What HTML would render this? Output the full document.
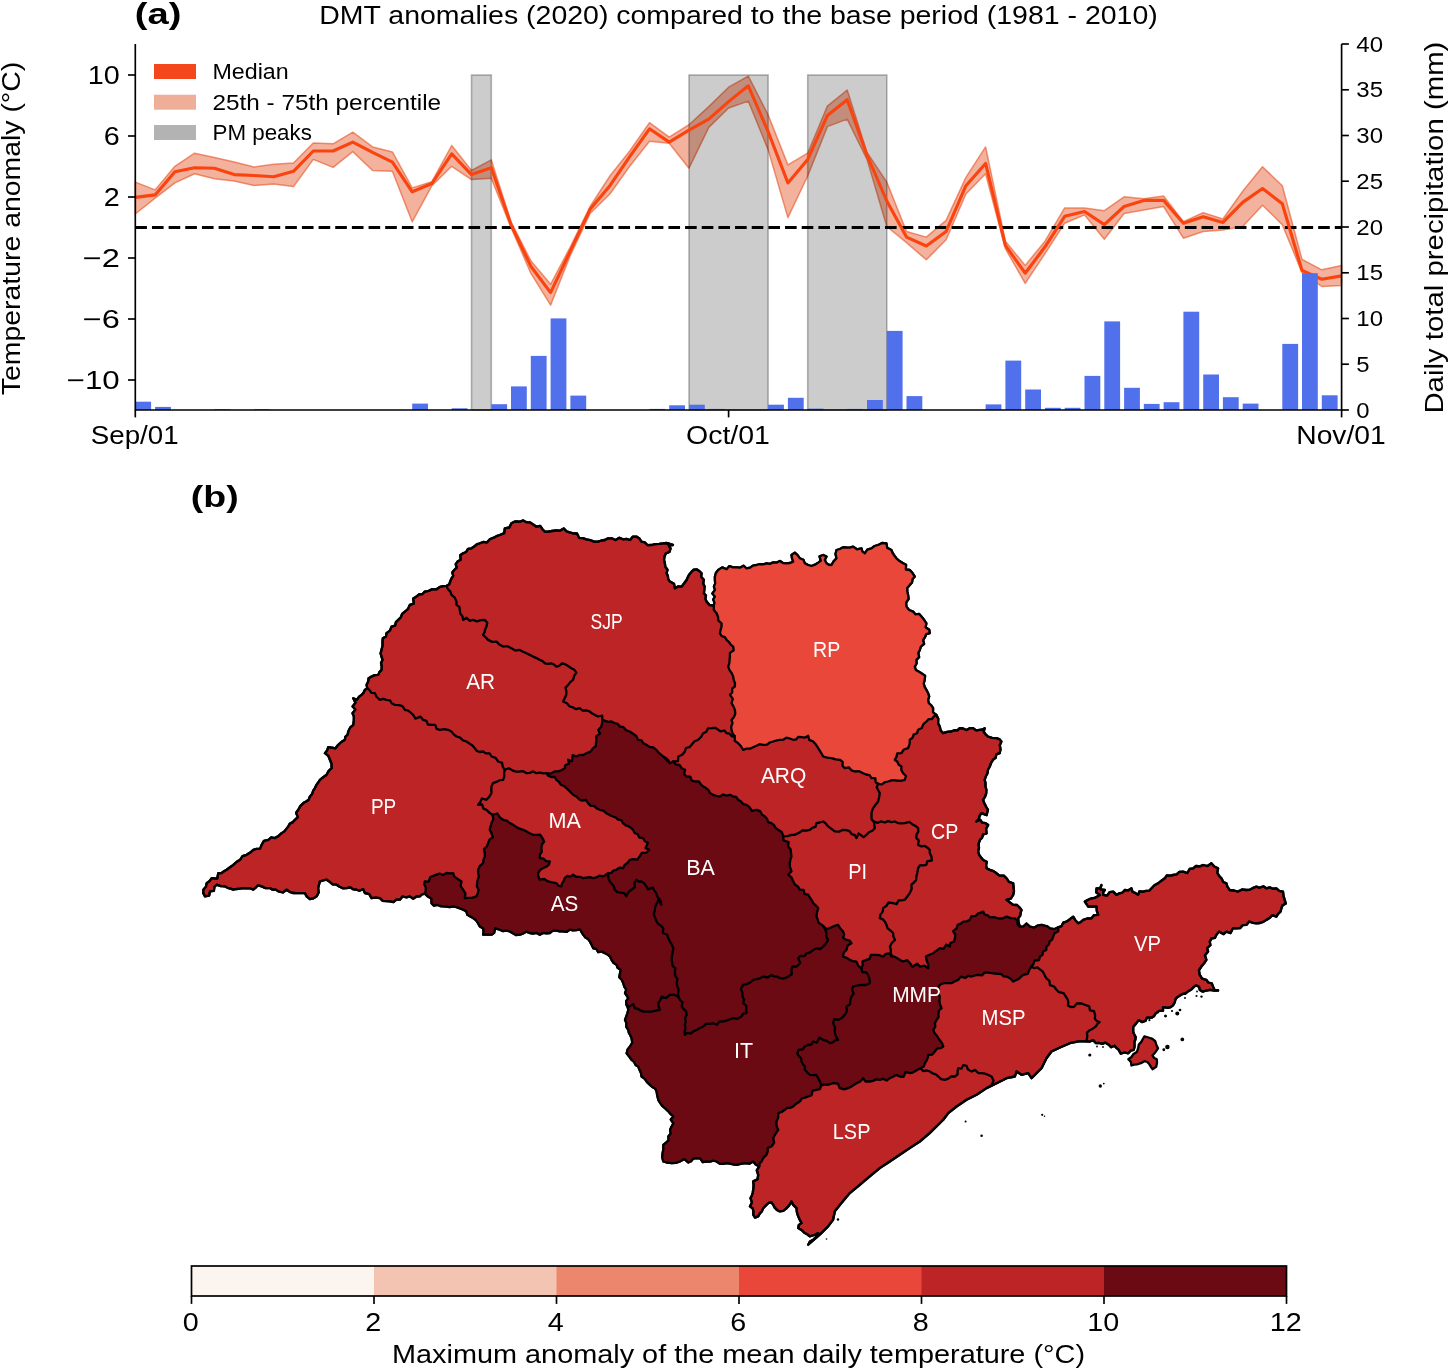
<!DOCTYPE html>
<html><head><meta charset="utf-8"><title>DMT anomalies</title>
<style>
html,body{margin:0;padding:0;background:#fff;}
body{width:1450px;height:1369px;overflow:hidden;}
svg{display:block;will-change:transform;}
text{font-family:"Liberation Sans",sans-serif;fill:#000;}
.b{font-weight:bold;}
.w{fill:#fff;}
</style></head><body>
<svg width="1450" height="1369" viewBox="0 0 1450 1369">
<rect width="1450" height="1369" fill="#fff"/>
<polygon points="135.3,182.1 155.1,189.9 174.9,166.3 194.6,153.2 214.4,157.4 234.2,162.1 254.0,167.1 273.7,164.3 293.5,163.0 313.3,143.0 333.1,143.8 352.8,132.2 372.6,146.9 392.4,151.9 412.2,187.9 431.9,181.6 451.7,145.5 471.5,170.5 491.3,159.9 511.0,221.8 530.8,260.7 550.6,284.3 570.4,246.8 590.1,206.5 609.9,176.0 629.7,151.0 649.5,122.7 669.2,137.1 689.0,124.7 708.8,106.6 728.6,87.2 748.3,76.1 768.1,114.9 787.9,164.9 807.7,153.2 827.4,106.1 847.2,90.0 867.0,152.4 886.8,182.1 906.5,231.5 926.3,237.1 946.1,220.4 965.9,177.4 985.6,146.9 1005.4,241.2 1025.2,265.4 1045.0,241.2 1064.7,207.9 1084.5,207.9 1104.3,210.7 1124.1,196.8 1143.8,198.8 1163.6,196.0 1183.4,221.8 1203.2,212.6 1222.9,219.0 1242.7,191.3 1262.5,166.8 1282.3,185.7 1302.0,259.3 1321.8,269.8 1341.6,265.4 1341.6,285.6 1321.8,286.5 1302.0,272.6 1282.3,224.6 1262.5,205.2 1242.7,226.5 1222.9,230.1 1203.2,231.5 1183.4,238.2 1163.6,206.5 1143.8,210.1 1124.1,213.5 1104.3,239.3 1084.5,214.9 1064.7,223.2 1045.0,253.7 1025.2,283.4 1005.4,248.7 985.6,173.8 965.9,194.0 946.1,239.8 926.3,259.8 906.5,242.6 886.8,226.5 867.0,159.4 847.2,119.1 827.4,126.6 807.7,176.0 787.9,217.6 768.1,149.6 748.3,101.1 728.6,108.0 708.8,127.4 689.0,168.2 669.2,143.3 649.5,141.3 629.7,166.3 609.9,194.0 590.1,213.5 570.4,255.1 550.6,305.1 530.8,273.2 511.0,227.4 491.3,178.2 471.5,179.6 451.7,166.3 431.9,185.7 412.2,221.8 392.4,171.3 372.6,170.5 352.8,151.6 333.1,167.4 313.3,159.4 293.5,186.6 273.7,184.1 254.0,185.4 234.2,181.0 214.4,178.8 194.6,173.8 174.9,182.9 155.1,198.2 135.3,214.0" fill="#E2572A" fill-opacity="0.46" stroke="#E8501F" stroke-opacity="0.6" stroke-width="1.5" stroke-linejoin="round"/>
<rect x="471.5" y="75" width="19.8" height="335" fill="#000" fill-opacity="0.2" stroke="#000" stroke-opacity="0.28" stroke-width="1.6"/>
<rect x="689.0" y="75" width="79.1" height="335" fill="#000" fill-opacity="0.2" stroke="#000" stroke-opacity="0.28" stroke-width="1.6"/>
<rect x="807.7" y="75" width="79.1" height="335" fill="#000" fill-opacity="0.2" stroke="#000" stroke-opacity="0.28" stroke-width="1.6"/>
<line x1="135.3" x2="1341.6" y1="227.5" y2="227.5" stroke="#000" stroke-width="3.14" stroke-dasharray="11.63 5.03"/>
<polyline points="135.3,197.4 155.1,194.9 174.9,171.8 194.6,167.7 214.4,168.2 234.2,174.6 254.0,175.5 273.7,176.8 293.5,171.3 313.3,151.0 333.1,151.0 352.8,142.1 372.6,152.4 392.4,162.1 412.2,191.8 431.9,183.5 451.7,153.8 471.5,174.6 491.3,167.7 511.0,224.6 530.8,266.2 550.6,292.6 570.4,250.9 590.1,209.3 609.9,185.7 629.7,156.6 649.5,128.8 669.2,142.1 689.0,130.2 708.8,119.1 728.6,101.6 748.3,85.8 768.1,131.6 787.9,182.9 807.7,159.4 827.4,115.5 847.2,99.7 867.0,155.2 886.8,201.0 906.5,237.1 926.3,246.0 946.1,231.5 965.9,185.7 985.6,163.5 1005.4,245.4 1025.2,273.2 1045.0,246.8 1064.7,216.3 1084.5,211.5 1104.3,224.6 1124.1,206.5 1143.8,200.4 1163.6,200.4 1183.4,223.2 1203.2,216.8 1222.9,222.4 1242.7,202.4 1262.5,188.5 1282.3,203.8 1302.0,270.4 1321.8,279.3 1341.6,275.9" fill="none" stroke="#FA430F" stroke-width="3.14" stroke-linejoin="round"/>
<rect x="135.3" y="401.7" width="15.8" height="8.3" fill="#5170EC"/>
<rect x="155.1" y="406.9" width="15.8" height="3.1" fill="#5170EC"/>
<rect x="214.4" y="409.2" width="15.8" height="0.8" fill="#5170EC"/>
<rect x="254.0" y="409.2" width="15.8" height="0.8" fill="#5170EC"/>
<rect x="412.2" y="403.6" width="15.8" height="6.4" fill="#5170EC"/>
<rect x="451.7" y="408.3" width="15.8" height="1.7" fill="#5170EC"/>
<rect x="491.3" y="404.2" width="15.8" height="5.8" fill="#5170EC"/>
<rect x="511.0" y="386.4" width="15.8" height="23.6" fill="#5170EC"/>
<rect x="530.8" y="355.9" width="15.8" height="54.1" fill="#5170EC"/>
<rect x="550.6" y="318.4" width="15.8" height="91.6" fill="#5170EC"/>
<rect x="570.4" y="395.6" width="15.8" height="14.4" fill="#5170EC"/>
<rect x="649.5" y="408.9" width="15.8" height="1.1" fill="#5170EC"/>
<rect x="669.2" y="405.3" width="15.8" height="4.7" fill="#5170EC"/>
<rect x="689.0" y="404.7" width="15.8" height="5.3" fill="#5170EC"/>
<rect x="708.8" y="408.9" width="15.8" height="1.1" fill="#5170EC"/>
<rect x="768.1" y="404.7" width="15.8" height="5.3" fill="#5170EC"/>
<rect x="787.9" y="397.8" width="15.8" height="12.2" fill="#5170EC"/>
<rect x="807.7" y="408.6" width="15.8" height="1.4" fill="#5170EC"/>
<rect x="847.2" y="408.9" width="15.8" height="1.1" fill="#5170EC"/>
<rect x="867.0" y="400.0" width="15.8" height="10.0" fill="#5170EC"/>
<rect x="886.8" y="330.9" width="15.8" height="79.1" fill="#5170EC"/>
<rect x="906.5" y="396.1" width="15.8" height="13.9" fill="#5170EC"/>
<rect x="985.6" y="404.4" width="15.8" height="5.6" fill="#5170EC"/>
<rect x="1005.4" y="360.6" width="15.8" height="49.4" fill="#5170EC"/>
<rect x="1025.2" y="389.5" width="15.8" height="20.5" fill="#5170EC"/>
<rect x="1045.0" y="407.8" width="15.8" height="2.2" fill="#5170EC"/>
<rect x="1064.7" y="407.8" width="15.8" height="2.2" fill="#5170EC"/>
<rect x="1084.5" y="375.9" width="15.8" height="34.1" fill="#5170EC"/>
<rect x="1104.3" y="321.4" width="15.8" height="88.6" fill="#5170EC"/>
<rect x="1124.1" y="387.8" width="15.8" height="22.2" fill="#5170EC"/>
<rect x="1143.8" y="403.9" width="15.8" height="6.1" fill="#5170EC"/>
<rect x="1163.6" y="402.2" width="15.8" height="7.8" fill="#5170EC"/>
<rect x="1183.4" y="311.7" width="15.8" height="98.3" fill="#5170EC"/>
<rect x="1203.2" y="374.5" width="15.8" height="35.5" fill="#5170EC"/>
<rect x="1222.9" y="397.2" width="15.8" height="12.8" fill="#5170EC"/>
<rect x="1242.7" y="403.6" width="15.8" height="6.4" fill="#5170EC"/>
<rect x="1282.3" y="343.9" width="15.8" height="66.1" fill="#5170EC"/>
<rect x="1302.0" y="273.2" width="15.8" height="136.8" fill="#5170EC"/>
<rect x="1321.8" y="395.3" width="15.8" height="14.7" fill="#5170EC"/>
<path d="M135.3,44 V410 H1341.6 V44" fill="none" stroke="#000" stroke-width="1.67"/>
<line x1="128" x2="135.3" y1="75" y2="75" stroke="#000" stroke-width="1.67"/>
<text x="119.8" y="84.1" font-size="25.64" text-anchor="end" textLength="32.0" lengthAdjust="spacingAndGlyphs">10</text>
<line x1="128" x2="135.3" y1="136" y2="136" stroke="#000" stroke-width="1.67"/>
<text x="119.8" y="145.1" font-size="25.64" text-anchor="end" textLength="16.0" lengthAdjust="spacingAndGlyphs">6</text>
<line x1="128" x2="135.3" y1="197" y2="197" stroke="#000" stroke-width="1.67"/>
<text x="119.8" y="206.1" font-size="25.64" text-anchor="end" textLength="16.0" lengthAdjust="spacingAndGlyphs">2</text>
<line x1="128" x2="135.3" y1="258" y2="258" stroke="#000" stroke-width="1.67"/>
<text x="119.8" y="267.1" font-size="25.64" text-anchor="end" textLength="37.1" lengthAdjust="spacingAndGlyphs">−2</text>
<line x1="128" x2="135.3" y1="319" y2="319" stroke="#000" stroke-width="1.67"/>
<text x="119.8" y="328.1" font-size="25.64" text-anchor="end" textLength="37.1" lengthAdjust="spacingAndGlyphs">−6</text>
<line x1="128" x2="135.3" y1="380" y2="380" stroke="#000" stroke-width="1.67"/>
<text x="119.8" y="389.1" font-size="25.64" text-anchor="end" textLength="53.1" lengthAdjust="spacingAndGlyphs">−10</text>
<line x1="1341.6" x2="1348.9" y1="410.0" y2="410.0" stroke="#000" stroke-width="1.67"/>
<text x="1356.3" y="417.6" font-size="21.37" textLength="13.3" lengthAdjust="spacingAndGlyphs">0</text>
<line x1="1341.6" x2="1348.9" y1="364.2" y2="364.2" stroke="#000" stroke-width="1.67"/>
<text x="1356.3" y="371.9" font-size="21.37" textLength="13.3" lengthAdjust="spacingAndGlyphs">5</text>
<line x1="1341.6" x2="1348.9" y1="318.5" y2="318.5" stroke="#000" stroke-width="1.67"/>
<text x="1356.3" y="326.1" font-size="21.37" textLength="26.7" lengthAdjust="spacingAndGlyphs">10</text>
<line x1="1341.6" x2="1348.9" y1="272.8" y2="272.8" stroke="#000" stroke-width="1.67"/>
<text x="1356.3" y="280.4" font-size="21.37" textLength="26.7" lengthAdjust="spacingAndGlyphs">15</text>
<line x1="1341.6" x2="1348.9" y1="227.0" y2="227.0" stroke="#000" stroke-width="1.67"/>
<text x="1356.3" y="234.6" font-size="21.37" textLength="26.7" lengthAdjust="spacingAndGlyphs">20</text>
<line x1="1341.6" x2="1348.9" y1="181.2" y2="181.2" stroke="#000" stroke-width="1.67"/>
<text x="1356.3" y="188.8" font-size="21.37" textLength="26.7" lengthAdjust="spacingAndGlyphs">25</text>
<line x1="1341.6" x2="1348.9" y1="135.5" y2="135.5" stroke="#000" stroke-width="1.67"/>
<text x="1356.3" y="143.1" font-size="21.37" textLength="26.7" lengthAdjust="spacingAndGlyphs">30</text>
<line x1="1341.6" x2="1348.9" y1="89.8" y2="89.8" stroke="#000" stroke-width="1.67"/>
<text x="1356.3" y="97.3" font-size="21.37" textLength="26.7" lengthAdjust="spacingAndGlyphs">35</text>
<line x1="1341.6" x2="1348.9" y1="44.0" y2="44.0" stroke="#000" stroke-width="1.67"/>
<text x="1356.3" y="51.6" font-size="21.37" textLength="26.7" lengthAdjust="spacingAndGlyphs">40</text>
<line x1="135.3" x2="135.3" y1="410" y2="417.4" stroke="#000" stroke-width="1.67"/>
<text x="134.7" y="443.6" font-size="25.64" text-anchor="middle" textLength="87.8" lengthAdjust="spacingAndGlyphs">Sep/01</text>
<line x1="728.6" x2="728.6" y1="410" y2="417.4" stroke="#000" stroke-width="1.67"/>
<text x="728.0" y="443.6" font-size="25.64" text-anchor="middle" textLength="83.9" lengthAdjust="spacingAndGlyphs">Oct/01</text>
<line x1="1341.6" x2="1341.6" y1="410" y2="417.4" stroke="#000" stroke-width="1.67"/>
<text x="1341.0" y="443.6" font-size="25.64" text-anchor="middle" textLength="89.5" lengthAdjust="spacingAndGlyphs">Nov/01</text>
<text x="134.8" y="23.7" font-size="29.92" textLength="46.6" lengthAdjust="spacingAndGlyphs" class="b">(a)</text>
<text x="738.5" y="23.5" font-size="25.64" text-anchor="middle" textLength="838.5" lengthAdjust="spacingAndGlyphs">DMT anomalies (2020) compared to the base period (1981 - 2010)</text>
<text x="20.3" y="228.5" font-size="25.64" text-anchor="middle" textLength="333.4" lengthAdjust="spacingAndGlyphs" transform="rotate(-90 20.3 228.5)">Temperature anomaly (°C)</text>
<text x="1443.3" y="227.6" font-size="25.64" text-anchor="middle" textLength="372.0" lengthAdjust="spacingAndGlyphs" transform="rotate(-90 1443.3 227.6)">Daily total precipitation (mm)</text>
<rect x="154" y="64" width="42" height="15" fill="#F4471C"/>
<rect x="154" y="94.7" width="42" height="15" fill="#EFAE98"/>
<rect x="154" y="125" width="42" height="15" fill="#B3B3B3"/>
<text x="212.5" y="79.4" font-size="21.37" textLength="76.2" lengthAdjust="spacingAndGlyphs">Median</text>
<text x="212.5" y="109.8" font-size="21.37" textLength="228.6" lengthAdjust="spacingAndGlyphs">25th - 75th percentile</text>
<text x="212.5" y="140.2" font-size="21.37" textLength="99.4" lengthAdjust="spacingAndGlyphs">PM peaks</text>
<text x="190.8" y="507.1" font-size="29.92" textLength="47.8" lengthAdjust="spacingAndGlyphs" class="b">(b)</text>
<polygon points="446.5,585.9 449.3,584.2 450.3,581.2 451.5,578.3 453.2,575.8 452.3,572.4 454.2,570.0 456.7,567.7 455.7,564.1 457.5,561.6 460.7,559.7 460.2,555.3 463.1,553.3 466.1,552.0 468.0,548.9 471.5,548.3 474.2,546.5 476.7,544.4 479.8,543.3 483.1,542.0 487.1,542.3 489.8,539.3 493.1,537.9 496.4,536.2 499.8,535.0 504.2,533.1 504.8,528.3 509.3,527.5 511.4,523.3 515.4,521.3 519.8,521.7 523.2,520.4 526.4,522.2 529.8,522.3 533.2,524.4 536.4,526.7 540.2,525.9 542.3,529.0 544.7,531.5 548.1,531.7 551.9,531.0 555.8,530.5 559.7,530.7 563.7,528.4 566.5,531.3 569.8,532.4 573.1,533.3 577.0,533.5 579.1,537.8 582.9,538.2 586.4,539.3 590.3,540.1 594.0,541.6 598.1,541.6 601.4,540.5 604.9,540.0 608.0,538.3 611.8,538.4 615.5,540.0 619.4,537.7 623.0,539.3 626.4,538.8 630.1,540.0 632.9,536.6 636.4,536.6 639.5,538.5 641.4,541.6 644.8,542.4 647.6,545.2 651.3,545.0 655.2,544.1 659.1,543.8 663.0,543.3 666.5,543.0 669.5,545.4 673.0,545.0 672.9,545.0 668.3,543.3 669.0,546.0 670.6,548.3 669.5,552.0 665.9,553.3 664.5,556.5 664.0,559.8 664.9,563.3 665.3,566.7 667.5,569.7 666.6,573.3 667.9,576.0 668.2,579.1 669.9,581.6 674.0,583.8 674.9,588.3 678.0,586.4 681.6,586.6 684.1,583.3 686.6,580.0 687.9,576.9 689.5,574.2 691.6,571.6 693.7,569.7 696.6,569.3 699.3,571.0 701.6,573.3 701.1,576.8 703.9,579.8 703.2,583.3 704.6,586.5 704.3,589.9 703.9,593.3 706.0,595.6 705.4,598.9 706.6,601.6 709.5,605.0 713.9,605.6 714.5,602.6 713.2,599.5 714.9,596.6 712.4,593.5 715.0,589.9 713.9,586.6 715.2,583.4 714.9,580.0 714.9,576.6 715.9,573.0 718.2,570.0 722.2,567.4 726.6,569.3 729.4,566.1 733.1,567.3 736.5,567.3 739.9,567.7 743.4,565.7 746.5,568.3 750.0,567.7 753.0,565.6 756.5,565.0 759.8,564.2 763.3,564.3 766.5,563.3 769.9,563.9 773.2,562.4 776.5,562.6 780.0,561.0 783.2,563.2 786.5,563.3 790.0,563.0 793.2,561.6 792.0,558.4 791.5,555.0 794.8,552.6 797.6,555.2 799.8,558.3 803.4,559.7 804.8,563.3 808.0,565.0 811.5,566.0 815.0,564.7 818.2,562.6 820.8,560.7 819.5,556.3 823.2,555.0 826.5,556.6 824.8,560.0 826.5,563.3 828.8,564.8 831.5,565.0 833.6,561.4 836.5,558.3 835.5,554.1 836.5,550.0 840.0,549.0 843.1,547.3 846.5,547.5 849.8,547.6 853.1,546.6 856.9,549.3 861.5,548.3 862.3,551.4 864.8,553.3 867.3,549.7 871.5,548.3 874.5,546.0 878.1,545.0 882.1,543.0 886.4,543.3 887.2,547.9 891.4,550.0 892.6,553.0 894.4,555.7 896.4,558.3 899.5,561.1 903.1,563.3 906.1,564.7 905.8,569.5 909.8,570.0 912.5,573.1 914.8,576.6 912.6,579.1 912.0,582.5 909.8,584.9 907.2,588.0 907.3,591.4 908.1,594.9 908.6,599.0 906.1,602.6 906.4,606.6 909.1,610.0 913.1,611.6 915.3,614.3 919.2,613.9 921.4,616.6 924.1,619.8 926.4,623.3 925.6,627.2 929.2,629.7 929.7,633.2 926.3,634.2 924.9,637.3 923.1,639.9 924.1,643.9 920.9,646.6 919.8,649.9 918.3,653.1 919.1,657.1 916.4,659.9 916.6,663.5 914.8,666.6 915.8,670.0 918.6,671.6 921.4,673.2 925.1,675.6 924.7,679.9 923.7,683.5 924.6,686.8 926.4,689.9 928.0,693.0 929.2,696.3 928.1,699.9 928.8,703.2 931.3,705.5 933.1,708.2 933.0,712.4 936.4,714.9 938.3,718.8 938.1,723.2 939.8,726.5 940.6,730.3 943.1,733.2 947.1,731.9 951.4,731.5 954.1,730.2 957.4,730.3 959.7,728.2 963.1,728.5 966.4,730.0 969.7,728.2 973.1,728.2 976.2,730.4 979.7,729.8 982.4,729.5 984.7,728.2 983.7,731.8 985.6,734.3 988.0,736.5 992.1,737.8 996.4,738.2 999.3,739.1 1001.4,741.5 999.8,745.3 1000.5,749.3 999.7,753.2 996.4,754.3 995.6,757.9 993.0,759.8 991.1,763.0 989.8,766.5 988.0,769.8 987.5,773.3 985.8,776.5 984.7,779.8 985.5,783.1 985.5,786.5 986.4,789.8 986.2,793.5 985.0,796.8 983.0,799.8 984.4,803.3 986.0,806.6 988.0,809.8 986.6,815.1 981.4,813.1 979.6,815.9 978.8,819.1 976.4,821.5 980.1,819.7 982.3,822.7 985.6,823.2 988.2,825.0 986.1,828.9 986.6,833.3 983.2,834.4 982.1,837.7 979.9,840.0 978.6,843.8 979.0,847.8 978.2,851.6 979.2,854.9 981.1,857.5 983.2,860.0 986.8,861.8 986.1,865.3 986.6,868.3 989.9,869.9 993.5,871.1 996.6,873.3 999.5,875.7 1003.8,875.6 1006.6,878.3 1009.0,881.9 1013.2,883.3 1013.6,887.2 1014.0,891.1 1013.2,894.9 1010.8,898.6 1006.6,899.9 1009.9,902.4 1013.2,904.9 1017.0,905.0 1019.4,907.3 1021.5,909.9 1020.7,912.8 1020.2,915.8 1018.2,918.3 1018.6,922.5 1019.9,926.6 1023.2,926.7 1026.5,923.5 1029.9,926.6 1034.0,927.7 1037.7,925.6 1041.5,924.9 1044.4,925.7 1047.4,926.4 1049.9,928.3 1054.2,929.2 1058.2,927.3 1061.5,926.2 1063.2,922.7 1066.5,921.6 1069.9,919.2 1073.2,916.6 1075.3,920.2 1078.2,923.3 1080.9,921.9 1083.2,919.9 1087.2,918.5 1091.5,918.3 1094.1,915.1 1098.2,914.9 1096.8,910.9 1096.5,906.6 1092.3,906.3 1088.2,906.6 1086.5,904.1 1084.8,901.6 1088.1,899.8 1091.5,898.3 1094.6,897.9 1097.2,896.5 1099.8,894.9 1096.3,892.5 1096.5,888.3 1100.0,888.2 1101.5,885.0 1100.3,889.3 1104.8,890.0 1103.2,892.2 1103.2,894.9 1107.1,895.7 1109.6,892.2 1113.2,891.6 1116.5,894.9 1119.3,893.3 1122.6,892.6 1124.8,890.0 1128.4,890.3 1131.5,888.3 1132.5,891.7 1135.5,893.1 1138.1,894.9 1139.3,891.4 1143.1,891.6 1146.0,890.8 1149.2,890.7 1151.5,888.3 1154.4,885.3 1158.1,883.3 1161.4,880.7 1164.8,878.3 1166.8,875.4 1170.1,875.6 1173.1,875.0 1176.6,874.4 1179.4,871.8 1183.1,871.6 1187.3,873.0 1189.6,869.0 1193.1,868.3 1196.0,866.0 1199.9,866.4 1203.1,865.0 1207.6,866.0 1211.4,863.3 1214.3,866.5 1218.1,868.3 1217.3,872.8 1219.7,876.6 1221.9,878.9 1223.2,882.0 1226.4,883.3 1227.5,886.9 1229.7,890.0 1234.0,890.5 1238.1,891.6 1242.0,889.5 1246.4,890.0 1250.0,889.6 1253.1,887.9 1256.4,886.6 1259.6,887.8 1263.3,886.3 1266.4,888.3 1269.7,887.4 1273.0,888.7 1276.4,888.3 1279.2,890.9 1283.0,891.6 1283.5,895.9 1284.7,899.9 1285.8,903.6 1282.4,905.5 1281.4,908.3 1280.6,911.6 1278.1,913.8 1276.4,916.6 1272.2,915.2 1269.5,918.1 1266.4,919.9 1263.3,921.9 1260.0,923.0 1256.4,923.3 1252.9,922.9 1249.2,921.5 1246.4,924.9 1242.8,925.1 1240.1,928.2 1236.4,928.3 1232.8,928.4 1230.6,933.1 1226.4,931.6 1223.6,934.2 1219.0,931.6 1216.4,934.9 1214.9,937.9 1211.3,938.7 1209.8,941.6 1210.4,945.1 1207.3,948.0 1208.1,951.6 1205.0,955.3 1206.4,959.9 1204.1,963.3 1201.4,966.6 1198.9,970.4 1199.8,974.9 1202.1,978.7 1206.4,979.9 1208.3,982.5 1211.8,983.4 1213.1,986.6 1214.5,989.8 1218.1,990.5 1214.2,990.7 1210.2,989.8 1206.4,990.5 1202.8,991.7 1199.8,990.0 1199.0,986.7 1195.9,985.4 1193.6,987.1 1191.6,989.2 1188.4,991.2 1185.4,993.5 1182.0,994.2 1179.2,996.0 1176.9,997.4 1175.4,999.7 1174.6,1002.7 1173.0,1005.3 1170.7,1007.1 1168.0,1007.8 1163.0,1007.2 1163.0,1010.9 1159.3,1010.9 1155.6,1013.4 1154.2,1016.0 1151.9,1017.7 1146.9,1017.7 1145.4,1021.0 1141.9,1022.1 1138.6,1020.1 1136.3,1023.3 1133.2,1027.0 1133.2,1032.0 1134.3,1034.6 1135.7,1037.0 1135.4,1039.5 1134.5,1041.9 1134.5,1046.9 1133.7,1049.9 1130.8,1050.6 1128.2,1053.3 1124.6,1052.5 1120.8,1053.7 1118.3,1049.4 1116.2,1047.8 1114.6,1045.7 1111.1,1047.3 1108.4,1044.4 1105.4,1042.7 1102.2,1043.8 1099.2,1043.0 1096.0,1043.2 1093.1,1040.1 1089.4,1041.7 1086.1,1041.3 1078.6,1041.3 1069.9,1043.2 1060.0,1047.5 1051.5,1051.5 1046.5,1058.2 1041.5,1068.2 1031.5,1078.2 1028.2,1073.2 1021.5,1074.8 1016.6,1071.5 1014.9,1076.5 1006.6,1078.2 996.6,1083.2 986.6,1088.1 976.6,1094.8 966.6,1099.8 956.6,1106.5 948.3,1113.1 943.3,1119.8 929.7,1133.1 919.8,1141.5 909.8,1148.1 899.8,1154.8 889.8,1161.5 879.8,1168.1 869.8,1176.4 859.8,1184.8 849.8,1193.1 841.5,1203.1 834.8,1211.4 833.1,1219.7 828.1,1226.4 819.8,1234.7 808.2,1244.7 809.9,1241.5 813.2,1239.7 816.1,1236.7 818.2,1233.1 815.5,1234.5 812.7,1235.5 809.8,1236.4 807.5,1234.5 804.8,1233.1 801.8,1230.2 798.2,1228.1 798.8,1224.9 801.5,1223.1 799.7,1219.8 798.2,1216.4 796.9,1212.3 796.5,1208.1 793.4,1205.2 791.5,1201.4 790.1,1204.1 788.2,1206.4 785.9,1208.9 783.3,1210.9 779.8,1211.4 776.9,1209.9 774.7,1207.6 773.2,1204.8 771.3,1202.1 768.2,1203.1 765.7,1205.6 763.2,1208.1 762.0,1211.1 759.7,1213.6 758.2,1216.4 755.0,1217.6 753.2,1214.7 753.4,1211.4 752.7,1208.5 749.9,1206.4 751.9,1202.4 750.5,1198.1 751.9,1195.5 752.7,1192.7 753.2,1189.8 753.6,1185.6 753.2,1181.4 757.5,1179.4 758.2,1174.8 756.8,1170.4 759.2,1166.4 755.7,1164.6 753.2,1161.5 749.3,1163.7 744.9,1163.1 740.7,1163.9 736.5,1164.8 733.2,1164.4 729.9,1163.6 726.6,1163.1 723.0,1163.8 719.6,1163.6 716.6,1161.5 713.2,1160.7 709.9,1161.7 706.6,1161.5 702.7,1162.0 700.2,1158.4 696.6,1158.1 693.3,1158.6 691.1,1161.2 688.2,1162.5 684.4,1159.1 679.9,1161.5 675.8,1162.8 671.6,1163.1 667.4,1162.6 663.3,1161.5 662.2,1157.3 662.6,1153.1 663.4,1149.0 663.3,1144.8 666.0,1142.7 668.6,1140.5 668.3,1136.5 670.7,1133.6 670.1,1129.7 671.6,1126.5 673.4,1123.4 670.8,1119.5 673.3,1116.5 670.4,1113.8 667.8,1110.8 664.9,1108.2 662.2,1105.8 660.1,1102.9 658.3,1099.8 657.3,1095.7 656.6,1091.5 655.1,1088.5 652.3,1087.0 649.9,1084.8 647.0,1082.2 644.8,1078.9 641.6,1076.5 641.0,1073.0 639.5,1069.8 638.3,1066.5 635.5,1064.9 634.1,1061.8 631.6,1059.9 629.2,1056.5 626.6,1053.2 627.6,1049.5 630.0,1046.5 632.3,1042.7 631.6,1038.2 630.4,1035.5 628.9,1032.9 628.3,1029.9 626.3,1026.8 626.4,1023.1 625.0,1019.9 626.2,1016.6 627.4,1013.3 628.3,1009.9 627.7,1007.3 626.6,1004.9 626.1,1001.2 628.3,998.2 626.7,995.7 625.0,993.2 626.3,989.6 624.2,986.5 623.3,983.2 621.9,980.0 619.3,977.2 620.0,973.2 620.6,969.8 617.6,967.8 616.6,964.9 613.5,962.8 611.6,959.9 610.0,956.6 607.5,954.4 604.6,952.9 601.6,951.6 598.2,952.1 596.3,948.8 593.3,948.3 591.7,944.9 590.0,941.6 588.1,939.0 585.3,937.4 583.3,934.9 581.6,932.2 580.0,929.3 576.4,930.1 573.0,930.4 569.7,929.7 566.7,931.9 563.1,931.3 559.7,931.4 556.2,930.6 552.8,930.7 549.8,933.0 546.4,933.4 542.9,932.9 539.8,934.7 536.6,932.9 533.1,933.5 529.8,933.0 526.1,931.7 523.0,933.6 519.8,934.7 515.9,935.1 512.9,933.3 509.8,931.4 506.5,930.6 503.0,931.1 499.8,929.7 495.1,928.3 494.2,932.9 491.5,934.7 487.3,934.3 483.1,934.7 483.6,931.3 483.0,928.3 479.8,926.4 478.0,923.2 476.1,920.3 473.1,918.1 470.3,916.4 467.4,914.8 466.2,911.1 463.1,909.7 459.9,908.3 456.6,907.1 453.2,906.4 449.8,907.1 446.5,906.6 443.2,906.4 440.1,906.0 437.3,904.8 433.9,905.6 431.5,903.1 431.4,898.4 427.7,896.4 424.8,893.7 422.0,894.5 419.8,896.4 416.5,896.5 413.2,898.7 409.8,896.4 406.5,897.4 402.5,896.5 399.9,899.7 396.4,899.6 393.4,902.1 389.9,901.4 386.2,901.2 382.7,900.8 379.9,898.1 375.7,897.7 371.5,898.1 369.3,894.1 364.9,893.1 363.2,889.1 359.3,890.8 356.6,889.7 353.2,889.4 350.1,887.3 346.6,888.1 342.8,888.3 339.6,886.8 336.6,884.7 332.6,884.4 329.7,881.9 326.6,879.7 323.2,880.5 319.9,881.4 319.0,884.7 318.2,888.1 318.7,892.5 316.6,896.4 313.5,898.4 309.9,899.1 306.8,896.6 304.9,893.1 300.8,893.1 296.6,893.1 292.9,893.0 289.6,891.8 286.6,889.7 282.8,892.5 278.3,891.4 275.8,889.6 272.5,889.7 269.9,888.1 265.6,888.2 261.6,886.4 258.0,885.3 255.7,887.7 253.3,889.7 250.1,888.3 246.7,888.3 243.3,888.1 240.0,888.6 236.6,889.0 233.3,889.7 230.5,888.7 227.6,887.8 225.0,886.4 220.7,886.1 216.6,884.7 214.4,886.9 213.9,890.8 210.0,891.4 209.2,895.6 205.0,896.4 203.3,893.3 203.3,889.7 205.9,886.8 206.7,883.1 209.6,881.0 211.7,878.1 217.2,878.6 218.3,873.1 221.5,873.0 224.0,871.3 226.6,869.8 230.0,867.3 233.3,864.8 236.4,862.0 240.0,859.8 242.5,856.2 246.6,854.8 250.2,852.6 253.3,849.8 256.5,848.8 260.1,848.6 261.6,844.8 263.9,840.9 268.3,839.8 271.2,837.4 274.9,838.1 278.5,835.9 281.6,833.1 284.3,831.4 286.3,828.9 288.3,826.4 289.8,823.6 292.8,822.1 294.9,819.8 297.8,817.1 296.1,812.8 298.3,809.8 300.3,806.1 303.3,803.1 306.1,801.5 308.7,799.7 309.9,796.5 312.1,794.0 313.1,790.9 314.9,788.1 316.3,785.2 318.2,782.5 319.9,779.8 323.2,777.2 326.6,774.8 328.5,771.1 331.6,768.2 331.5,763.8 329.9,759.8 328.3,755.9 324.9,753.2 327.1,750.5 328.2,747.2 331.9,747.6 335.5,748.3 338.2,744.8 341.3,742.0 344.9,739.8 345.3,736.8 347.7,734.5 348.2,731.5 350.1,727.7 353.2,724.9 353.8,720.7 353.9,716.5 352.5,713.3 355.3,709.6 352.6,706.5 355.5,702.6 353.2,698.2 357.0,699.7 359.1,696.7 361.5,694.9 363.5,692.7 364.8,690.0 367.2,688.2 366.6,684.7 368.2,681.5 368.6,678.2 371.5,676.6 374.7,675.1 378.2,674.9 379.4,672.1 381.5,669.9 381.7,666.5 381.0,663.1 382.5,659.9 381.5,656.6 380.6,653.4 381.5,649.9 382.5,645.8 382.5,641.6 382.8,638.3 386.0,636.4 386.5,633.2 389.9,630.6 391.5,626.6 395.1,625.7 395.9,622.1 398.2,619.9 400.8,617.4 402.1,613.9 404.9,611.6 408.1,608.8 409.8,604.9 413.8,603.6 413.2,598.5 416.5,596.6 419.0,594.4 422.5,594.0 424.8,591.6 428.7,590.9 432.4,589.1 436.5,589.3 439.5,587.1 442.8,586.1 446.5,585.9" fill="#BD2426" stroke="#000" stroke-width="2.3" stroke-linejoin="round"/>
<polygon points="424.8,893.7 425.7,890.7 425.8,887.6 424.4,884.5 424.8,881.4 428.8,881.6 430.2,877.2 433.2,875.8 436.5,874.7 439.7,873.6 443.3,875.0 446.4,873.0 449.8,873.4 453.2,873.1 454.0,876.1 456.5,878.1 458.9,879.8 461.5,881.4 460.6,885.9 463.1,889.7 465.5,893.6 464.8,898.1 468.7,897.8 472.7,897.7 476.5,896.4 477.8,893.1 478.6,889.8 476.9,886.4 477.1,883.1 477.7,879.8 478.9,876.5 478.1,873.1 478.1,869.8 479.9,865.9 483.1,863.1 483.5,859.7 484.9,856.5 484.8,853.1 483.9,849.1 486.9,846.4 488.1,843.1 489.4,839.8 492.8,837.3 491.5,833.1 489.7,829.8 490.6,826.4 491.5,823.1 493.3,819.1 492.5,814.8 497.4,813.5 499.9,817.5 503.1,819.8 506.8,820.7 509.8,823.1 513.1,824.8 516.2,826.9 519.5,828.7 523.1,829.8 526.4,831.4 529.7,833.2 533.1,834.8 536.6,834.9 540.1,834.7 542.4,838.1 544.2,841.6 541.8,844.8 541.4,848.1 541.9,851.6 539.9,854.7 539.8,858.1 543.3,858.5 546.1,861.2 549.8,861.4 548.8,864.9 546.2,866.8 543.1,868.1 540.1,870.1 538.1,873.1 538.4,876.5 539.8,879.7 544.2,879.0 548.1,881.4 552.2,882.3 556.4,883.1 558.3,885.6 561.4,886.4 562.0,883.4 563.8,880.9 564.7,878.1 567.1,876.0 570.6,876.6 573.1,874.7 576.1,876.8 579.8,876.8 583.1,878.1 586.4,877.6 589.7,877.2 593.1,878.1 596.4,877.3 599.5,875.7 603.0,876.4 605.7,874.9 608.0,873.1 611.2,872.8 613.5,870.6 616.4,869.8 619.4,867.7 623.0,868.1 624.7,864.9 627.7,862.7 629.7,859.8 633.2,859.1 637.1,859.7 639.7,856.4 641.8,852.9 646.4,852.7 649.0,849.8 645.5,847.9 647.9,843.0 644.7,841.0 643.0,838.1 639.3,837.5 637.7,834.3 634.6,833.0 633.0,829.8 630.8,827.7 628.2,826.2 625.3,825.1 623.0,823.1 621.4,820.2 618.1,819.7 615.9,817.6 613.0,816.5 609.6,815.1 606.3,813.2 603.4,810.7 599.7,809.8 596.7,808.4 594.2,806.0 590.5,805.7 588.1,803.1 586.0,800.0 581.7,800.7 578.8,799.0 576.4,796.5 573.4,795.0 571.1,792.7 568.8,790.4 566.4,788.1 564.0,786.0 560.8,784.7 558.9,781.9 556.4,779.8 554.7,777.0 551.1,777.0 548.3,775.7 546.4,773.2 550.8,773.6 554.7,771.5 558.4,771.4 561.7,770.1 564.7,768.2 565.3,765.2 569.2,763.5 568.1,759.8 571.9,761.3 572.7,755.2 576.4,756.5 579.6,755.0 583.3,755.0 586.4,753.2 590.4,751.6 593.1,748.2 595.8,746.1 596.0,742.9 596.4,739.8 596.1,736.4 600.0,733.6 598.1,729.8 601.1,727.2 602.0,723.6 602.4,719.9 605.3,720.9 608.2,721.8 611.4,721.5 614.3,723.0 617.6,723.8 619.7,726.5 623.5,727.2 626.2,730.3 629.7,731.5 633.0,733.8 636.3,736.0 638.0,739.8 641.5,740.4 643.5,743.4 646.4,744.8 649.5,746.9 653.3,747.5 656.3,749.8 658.3,752.3 660.7,754.3 663.0,756.5 666.0,758.0 668.3,760.1 669.7,763.2 663.3,756.5 665.6,758.6 667.7,760.9 669.9,763.2 673.3,761.5 675.6,764.3 679.5,765.0 681.6,768.2 685.1,769.8 684.1,774.2 686.6,776.5 690.3,776.6 691.7,780.5 694.9,781.5 698.8,781.3 700.8,784.3 703.2,786.5 706.0,788.1 708.5,790.1 709.9,793.1 713.0,794.8 716.4,795.8 719.9,796.5 723.0,794.5 726.6,795.7 729.9,794.8 732.8,796.3 736.2,796.9 738.2,799.8 741.0,801.5 743.2,804.1 746.5,804.8 749.5,807.2 751.8,810.8 756.5,809.8 760.1,811.1 761.9,814.5 764.9,816.5 767.0,818.7 768.1,822.1 771.5,823.1 774.0,825.1 775.6,827.9 778.2,829.8 781.9,832.2 783.2,836.4 783.5,840.4 788.6,842.1 788.2,846.4 790.6,849.3 791.0,852.9 791.5,856.4 790.4,859.7 789.8,863.0 789.8,866.4 791.5,871.1 788.2,874.7 791.5,877.5 793.2,881.4 795.0,884.5 798.0,886.6 799.8,889.7 803.6,889.8 804.7,894.2 808.2,894.7 809.8,897.5 811.7,900.1 813.2,903.1 815.8,905.4 818.2,908.1 817.1,912.2 816.5,916.4 817.7,919.5 818.5,922.7 821.5,924.7 826.9,929.3 831.5,927.3 834.7,925.9 838.1,924.9 840.3,928.5 843.1,931.6 844.1,934.4 843.2,938.0 846.5,939.9 849.7,940.6 851.5,943.3 847.6,945.6 846.5,949.9 843.7,952.7 843.1,956.6 846.7,957.8 849.8,959.9 853.0,961.2 856.5,961.6 858.1,965.6 861.5,968.3 862.7,965.2 862.5,961.4 866.5,959.9 869.6,958.9 870.9,954.8 874.8,954.9 879.1,955.2 883.1,956.6 885.9,953.9 889.8,953.3 891.4,956.6 894.6,956.8 897.3,958.3 900.0,959.9 903.1,961.5 907.3,960.2 910.0,963.2 912.5,966.8 917.2,963.7 920.0,966.6 924.5,965.7 928.3,968.2 928.2,964.2 926.7,960.5 925.9,956.6 929.5,954.7 933.3,953.2 936.6,950.7 939.9,948.2 943.5,948.8 946.2,944.6 949.9,946.6 950.4,943.1 954.1,941.5 954.9,938.3 955.4,934.9 953.1,931.1 956.6,928.3 957.7,924.9 960.8,923.6 963.3,921.6 966.7,921.4 969.9,919.9 971.5,916.2 975.7,915.8 978.2,913.3 980.8,912.6 983.2,911.6 984.6,914.5 987.7,915.3 989.9,917.3 994.1,917.2 998.2,918.3 1002.6,918.5 1006.6,916.6 1010.6,918.1 1014.9,918.3 1017.5,920.5 1017.5,924.2 1019.9,926.6 1023.2,926.7 1026.5,923.5 1029.9,926.6 1034.0,927.7 1037.7,925.6 1041.5,924.9 1044.4,925.7 1047.4,926.4 1049.9,928.3 1054.2,929.2 1058.2,927.3 1058.3,931.3 1054.5,933.3 1053.2,936.6 1052.2,939.5 1049.7,941.4 1048.9,944.5 1046.5,946.6 1046.3,950.0 1043.1,951.5 1042.5,954.7 1039.9,956.6 1039.0,960.1 1034.5,960.6 1033.5,964.0 1031.5,966.6 1029.3,969.8 1027.7,973.8 1023.2,974.9 1020.9,976.8 1018.7,978.9 1015.9,980.2 1013.2,981.6 1010.3,978.5 1006.6,976.6 1003.6,976.3 1001.2,974.0 998.2,973.9 994.9,973.5 991.5,973.2 988.2,972.6 984.7,972.6 981.9,975.4 978.2,974.9 974.9,975.4 971.7,976.5 968.3,975.9 965.2,978.0 960.8,976.6 958.3,979.9 955.0,981.2 951.9,983.0 948.3,983.2 944.6,983.2 941.1,984.0 938.3,986.6 939.0,989.9 938.2,993.4 939.9,996.5 939.4,1000.6 940.0,1004.5 941.6,1008.2 939.0,1010.5 938.4,1013.7 938.6,1017.3 936.6,1019.9 935.0,1023.0 935.3,1026.8 933.3,1029.9 934.5,1032.9 936.6,1035.4 938.3,1038.2 940.2,1040.8 942.1,1043.4 943.3,1046.5 940.5,1048.2 937.0,1048.6 934.9,1051.5 932.3,1054.6 928.3,1054.8 927.8,1057.9 926.6,1060.6 924.9,1063.2 923.8,1066.5 920.6,1068.2 918.0,1069.5 915.4,1071.1 912.8,1072.6 909.8,1073.2 905.6,1071.9 903.6,1076.8 899.8,1076.5 896.1,1074.9 893.0,1076.8 889.8,1078.2 886.7,1080.5 883.0,1078.8 879.8,1079.8 876.3,1079.3 873.1,1080.9 869.8,1081.5 865.6,1081.5 863.1,1078.2 860.3,1081.4 856.5,1083.2 853.7,1084.9 851.1,1086.8 848.1,1088.2 844.0,1089.3 839.8,1088.2 838.0,1083.7 833.1,1083.2 829.1,1084.5 824.8,1084.8 821.3,1085.2 819.9,1089.2 816.5,1089.8 812.6,1090.6 811.6,1095.1 808.2,1096.5 805.1,1097.7 801.8,1098.5 799.8,1101.5 796.3,1103.7 793.2,1106.5 790.5,1107.8 787.3,1107.8 784.8,1109.8 781.8,1112.0 778.2,1113.2 778.2,1117.5 776.5,1121.5 776.5,1125.8 778.2,1129.8 776.4,1132.5 774.7,1135.3 773.2,1138.1 774.2,1142.7 771.5,1146.5 767.7,1148.0 767.7,1151.7 766.5,1154.8 763.5,1157.7 761.5,1161.5 759.6,1163.6 759.2,1166.4 755.7,1164.6 753.2,1161.5 749.3,1163.7 744.9,1163.1 740.7,1163.9 736.5,1164.8 733.2,1164.4 729.9,1163.6 726.6,1163.1 723.0,1163.8 719.6,1163.6 716.6,1161.5 713.2,1160.7 709.9,1161.7 706.6,1161.5 702.7,1162.0 700.2,1158.4 696.6,1158.1 693.3,1158.6 691.1,1161.2 688.2,1162.5 684.4,1159.1 679.9,1161.5 675.8,1162.8 671.6,1163.1 667.4,1162.6 663.3,1161.5 662.2,1157.3 662.6,1153.1 663.4,1149.0 663.3,1144.8 666.0,1142.7 668.6,1140.5 668.3,1136.5 670.7,1133.6 670.1,1129.7 671.6,1126.5 673.4,1123.4 670.8,1119.5 673.3,1116.5 670.4,1113.8 667.8,1110.8 664.9,1108.2 662.2,1105.8 660.1,1102.9 658.3,1099.8 657.3,1095.7 656.6,1091.5 655.1,1088.5 652.3,1087.0 649.9,1084.8 647.0,1082.2 644.8,1078.9 641.6,1076.5 641.0,1073.0 639.5,1069.8 638.3,1066.5 635.5,1064.9 634.1,1061.8 631.6,1059.9 629.2,1056.5 626.6,1053.2 627.6,1049.5 630.0,1046.5 632.3,1042.7 631.6,1038.2 630.4,1035.5 628.9,1032.9 628.3,1029.9 626.3,1026.8 626.4,1023.1 625.0,1019.9 626.2,1016.6 627.4,1013.3 628.3,1009.9 627.7,1007.3 626.6,1004.9 626.1,1001.2 628.3,998.2 626.7,995.7 625.0,993.2 626.3,989.6 624.2,986.5 623.3,983.2 621.9,980.0 619.3,977.2 620.0,973.2 620.6,969.8 617.6,967.8 616.6,964.9 613.5,962.8 611.6,959.9 610.0,956.6 607.5,954.4 604.6,952.9 601.6,951.6 598.2,952.1 596.3,948.8 593.3,948.3 591.7,944.9 590.0,941.6 588.1,939.0 585.3,937.4 583.3,934.9 581.6,932.2 580.0,929.3 576.4,930.1 573.0,930.4 569.7,929.7 566.7,931.9 563.1,931.3 559.7,931.4 556.2,930.6 552.8,930.7 549.8,933.0 546.4,933.4 542.9,932.9 539.8,934.7 536.6,932.9 533.1,933.5 529.8,933.0 526.1,931.7 523.0,933.6 519.8,934.7 515.9,935.1 512.9,933.3 509.8,931.4 506.5,930.6 503.0,931.1 499.8,929.7 495.1,928.3 494.2,932.9 491.5,934.7 487.3,934.3 483.1,934.7 483.6,931.3 483.0,928.3 479.8,926.4 478.0,923.2 476.1,920.3 473.1,918.1 470.3,916.4 467.4,914.8 466.2,911.1 463.1,909.7 459.9,908.3 456.6,907.1 453.2,906.4 449.8,907.1 446.5,906.6 443.2,906.4 440.1,906.0 437.3,904.8 433.9,905.6 431.5,903.1 431.4,898.4 427.7,896.4 424.8,893.7" fill="#6B0A13" stroke="none"/>
<polygon points="713.9,605.6 714.5,602.6 713.2,599.5 714.9,596.6 712.4,593.5 715.0,589.9 713.9,586.6 715.2,583.4 714.9,580.0 714.9,576.6 715.9,573.0 718.2,570.0 722.2,567.4 726.6,569.3 729.4,566.1 733.1,567.3 736.5,567.3 739.9,567.7 743.4,565.7 746.5,568.3 750.0,567.7 753.0,565.6 756.5,565.0 759.8,564.2 763.3,564.3 766.5,563.3 769.9,563.9 773.2,562.4 776.5,562.6 780.0,561.0 783.2,563.2 786.5,563.3 790.0,563.0 793.2,561.6 792.0,558.4 791.5,555.0 794.8,552.6 797.6,555.2 799.8,558.3 803.4,559.7 804.8,563.3 808.0,565.0 811.5,566.0 815.0,564.7 818.2,562.6 820.8,560.7 819.5,556.3 823.2,555.0 826.5,556.6 824.8,560.0 826.5,563.3 828.8,564.8 831.5,565.0 833.6,561.4 836.5,558.3 835.5,554.1 836.5,550.0 840.0,549.0 843.1,547.3 846.5,547.5 849.8,547.6 853.1,546.6 856.9,549.3 861.5,548.3 862.3,551.4 864.8,553.3 867.3,549.7 871.5,548.3 874.5,546.0 878.1,545.0 882.1,543.0 886.4,543.3 887.2,547.9 891.4,550.0 892.6,553.0 894.4,555.7 896.4,558.3 899.5,561.1 903.1,563.3 906.1,564.7 905.8,569.5 909.8,570.0 912.5,573.1 914.8,576.6 912.6,579.1 912.0,582.5 909.8,584.9 907.2,588.0 907.3,591.4 908.1,594.9 908.6,599.0 906.1,602.6 906.4,606.6 909.1,610.0 913.1,611.6 915.3,614.3 919.2,613.9 921.4,616.6 924.1,619.8 926.4,623.3 925.6,627.2 929.2,629.7 929.7,633.2 926.3,634.2 924.9,637.3 923.1,639.9 924.1,643.9 920.9,646.6 919.8,649.9 918.3,653.1 919.1,657.1 916.4,659.9 916.6,663.5 914.8,666.6 915.8,670.0 918.6,671.6 921.4,673.2 925.1,675.6 924.7,679.9 923.7,683.5 924.6,686.8 926.4,689.9 928.0,693.0 929.2,696.3 928.1,699.9 928.8,703.2 931.3,705.5 933.1,708.2 933.0,712.4 936.4,714.9 933.8,716.4 932.0,719.0 928.5,719.2 926.4,721.5 923.4,724.1 921.8,728.0 918.1,729.8 917.0,733.2 913.6,734.6 912.5,737.9 909.8,739.8 909.6,744.1 908.1,748.2 903.9,749.5 901.4,753.2 897.2,753.4 896.4,757.0 894.8,759.8 897.4,761.7 898.7,764.8 901.4,766.5 901.3,770.1 903.1,773.2 905.9,776.0 904.8,779.8 900.6,780.8 896.4,780.5 892.2,780.1 888.1,781.5 884.8,782.2 881.8,784.4 878.1,783.8 875.7,782.2 875.3,778.1 871.5,778.1 869.5,775.2 866.1,774.5 863.1,773.2 859.2,771.2 854.8,771.5 851.5,770.3 848.8,767.4 844.8,768.2 842.5,765.8 842.7,761.9 839.8,759.8 835.6,759.4 831.5,758.2 827.2,757.7 823.2,756.5 821.6,753.6 819.9,750.9 818.2,748.2 815.9,744.6 813.2,741.5 809.2,739.9 808.2,735.8 805.1,737.6 801.5,737.2 798.3,736.8 796.1,739.4 793.2,739.8 789.8,738.5 786.5,737.6 783.2,739.8 779.7,739.8 776.4,740.5 773.2,741.5 769.8,742.5 766.8,744.7 763.2,744.8 759.5,744.2 756.4,745.8 753.2,747.2 750.0,748.6 746.5,748.6 743.2,749.8 741.0,746.3 738.2,743.2 734.7,740.8 734.9,736.5 732.6,733.5 731.5,729.8 731.2,726.5 732.5,723.2 731.5,719.9 734.0,717.0 735.3,713.7 734.9,709.9 733.4,706.4 731.5,703.2 732.8,698.6 729.9,694.9 732.2,692.5 732.1,688.7 734.9,686.5 735.0,683.1 733.7,679.9 733.2,676.6 731.7,673.1 729.5,670.1 728.2,666.6 729.3,663.3 729.6,659.9 729.9,656.6 729.9,652.9 733.7,650.4 733.2,646.6 730.7,644.7 728.9,642.0 726.6,639.9 724.9,637.1 721.6,636.0 719.9,633.2 720.6,629.9 721.5,626.7 721.6,623.3 718.4,620.7 718.0,616.7 716.6,613.3 713.8,609.9 713.9,605.6" fill="#EA473B" stroke="none"/>
<polygon points="1144.4,1036.3 1148.5,1037.5 1152.5,1038.8 1155.2,1041.1 1156.2,1044.4 1158.0,1048.3 1155.6,1051.9 1152.5,1055.6 1154.2,1058.0 1156.8,1059.3 1157.0,1063.1 1156.2,1066.8 1152.5,1069.2 1150.9,1066.8 1149.4,1064.3 1147.3,1062.0 1144.4,1061.2 1140.9,1063.2 1137.0,1064.3 1134.1,1064.7 1131.4,1065.5 1130.9,1061.9 1128.3,1059.3 1131.2,1057.3 1133.2,1054.3 1136.8,1052.1 1138.2,1048.1 1138.8,1044.6 1141.3,1041.9" fill="#BD2426" stroke="#000" stroke-width="2.3" stroke-linejoin="round"/>
<polyline points="446.5,585.9 447.9,589.1 450.4,591.6 451.5,594.9 454.8,597.6 456.5,601.6 456.5,604.8 459.3,606.9 459.8,609.9 460.2,613.5 462.5,616.4 463.1,619.9 466.5,617.8 469.8,620.8 473.1,619.9 477.0,621.3 480.9,620.1 484.8,619.9 487.3,622.8 486.5,626.6 485.2,629.3 484.6,632.3 483.1,634.9 485.7,637.4 488.1,639.9 492.1,641.9 496.5,641.6 499.4,644.6 503.1,646.6 507.5,646.2 511.4,648.2 515.3,650.5 519.8,649.9 523.0,651.7 526.4,653.2 529.8,654.9 533.1,656.6 536.5,658.1 539.8,659.9 542.6,661.1 544.9,663.4 548.1,663.9 551.3,663.3 554.0,664.5 556.4,666.6 559.2,665.8 561.6,663.5 564.7,663.9 568.1,666.0 571.4,668.2 574.4,669.8 576.4,672.6 574.1,675.9 573.1,679.9 570.3,682.1 568.1,684.9 565.5,687.8 566.4,691.5 566.2,695.0 564.7,698.2 563.1,701.5 566.9,703.3 569.7,706.5 573.0,707.4 576.1,709.2 579.7,708.2 582.6,710.6 586.4,710.4 589.7,711.5 592.2,713.6 595.1,715.1 598.1,716.5 602.2,715.6 602.4,719.9" fill="none" stroke="#000" stroke-width="2.3" stroke-linejoin="round" stroke-linecap="round"/>
<polyline points="602.4,719.9 605.3,720.9 608.2,721.8 611.4,721.5 614.3,723.0 617.6,723.8 619.7,726.5 623.5,727.2 626.2,730.3 629.7,731.5 633.0,733.8 636.3,736.0 638.0,739.8 641.5,740.4 643.5,743.4 646.4,744.8 649.5,746.9 653.3,747.5 656.3,749.8 658.3,752.3 660.7,754.3 663.0,756.5 666.0,758.0 668.3,760.1 669.7,763.2 663.3,756.5 665.6,758.6 667.7,760.9 669.9,763.2 673.3,761.5" fill="none" stroke="#000" stroke-width="2.3" stroke-linejoin="round" stroke-linecap="round"/>
<polyline points="602.4,719.9 602.0,723.6 601.1,727.2 598.1,729.8 600.0,733.6 596.1,736.4 596.4,739.8 596.0,742.9 595.8,746.1 593.1,748.2 590.4,751.6 586.4,753.2 583.3,755.0 579.6,755.0 576.4,756.5 572.7,755.2 571.9,761.3 568.1,759.8 569.2,763.5 565.3,765.2 564.7,768.2 561.7,770.1 558.4,771.4 554.7,771.5 550.8,773.6 546.4,773.2" fill="none" stroke="#000" stroke-width="2.3" stroke-linejoin="round" stroke-linecap="round"/>
<polyline points="546.4,773.2 548.3,775.7 551.1,777.0 554.7,777.0 556.4,779.8 558.9,781.9 560.8,784.7 564.0,786.0 566.4,788.1 568.8,790.4 571.1,792.7 573.4,795.0 576.4,796.5 578.8,799.0 581.7,800.7 586.0,800.0 588.1,803.1 590.5,805.7 594.2,806.0 596.7,808.4 599.7,809.8 603.4,810.7 606.3,813.2 609.6,815.1 613.0,816.5 615.9,817.6 618.1,819.7 621.4,820.2 623.0,823.1 625.3,825.1 628.2,826.2 630.8,827.7 633.0,829.8 634.6,833.0 637.7,834.3 639.3,837.5 643.0,838.1 644.7,841.0 647.9,843.0 645.5,847.9 649.0,849.8" fill="none" stroke="#000" stroke-width="2.3" stroke-linejoin="round" stroke-linecap="round"/>
<polyline points="367.2,688.2 369.6,690.2 371.4,692.9 374.9,693.2 376.7,697.0 379.9,699.9 383.2,698.8 386.5,699.9 390.0,700.3 391.9,703.5 394.9,704.9 398.9,705.2 402.5,706.2 404.9,709.9 408.1,710.7 410.7,712.7 413.2,714.9 415.5,718.6 420.6,716.7 423.2,719.9 426.4,720.8 427.9,724.5 431.5,724.9 435.2,724.9 436.7,728.8 439.8,729.8 444.0,729.1 448.2,729.8 451.4,731.5 453.7,734.3 456.5,736.5 460.1,737.7 462.9,740.3 466.5,741.5 469.4,743.5 472.4,745.5 474.8,748.2 476.9,751.0 479.7,752.0 483.1,751.5 485.8,753.4 489.6,753.3 491.5,756.5 495.6,757.9 498.1,761.5 502.1,762.9 502.8,766.9 504.8,769.8" fill="none" stroke="#000" stroke-width="2.3" stroke-linejoin="round" stroke-linecap="round"/>
<polyline points="504.8,769.8 508.8,768.2 512.3,770.3 516.0,771.6 519.8,771.5 523.2,771.2 526.3,773.1 529.7,772.9 533.2,771.4 536.4,773.2 539.8,772.7 543.1,773.4 546.4,773.2" fill="none" stroke="#000" stroke-width="2.3" stroke-linejoin="round" stroke-linecap="round"/>
<polyline points="504.8,769.8 504.1,773.1 504.2,776.6 503.1,779.8 499.6,780.2 496.4,781.9 493.1,783.1 491.5,786.3 491.3,789.7 491.5,793.1 489.3,796.7 486.5,799.8 481.9,798.5 480.3,802.1 478.1,804.8 482.1,804.4 483.4,808.7 486.5,809.8 489.2,812.6 492.5,814.8" fill="none" stroke="#000" stroke-width="2.3" stroke-linejoin="round" stroke-linecap="round"/>
<polyline points="424.8,893.7 425.7,890.7 425.8,887.6 424.4,884.5 424.8,881.4 428.8,881.6 430.2,877.2 433.2,875.8 436.5,874.7 439.7,873.6 443.3,875.0 446.4,873.0 449.8,873.4 453.2,873.1 454.0,876.1 456.5,878.1 458.9,879.8 461.5,881.4 460.6,885.9 463.1,889.7 465.5,893.6 464.8,898.1 468.7,897.8 472.7,897.7 476.5,896.4 477.8,893.1 478.6,889.8 476.9,886.4 477.1,883.1 477.7,879.8 478.9,876.5 478.1,873.1 478.1,869.8 479.9,865.9 483.1,863.1 483.5,859.7 484.9,856.5 484.8,853.1 483.9,849.1 486.9,846.4 488.1,843.1 489.4,839.8 492.8,837.3 491.5,833.1 489.7,829.8 490.6,826.4 491.5,823.1 493.3,819.1 492.5,814.8" fill="none" stroke="#000" stroke-width="2.3" stroke-linejoin="round" stroke-linecap="round"/>
<polyline points="492.5,814.8 497.4,813.5 499.9,817.5 503.1,819.8 506.8,820.7 509.8,823.1 513.1,824.8 516.2,826.9 519.5,828.7 523.1,829.8 526.4,831.4 529.7,833.2 533.1,834.8 536.6,834.9 540.1,834.7 542.4,838.1 544.2,841.6 541.8,844.8 541.4,848.1 541.9,851.6 539.9,854.7 539.8,858.1 543.3,858.5 546.1,861.2 549.8,861.4 548.8,864.9 546.2,866.8 543.1,868.1 540.1,870.1 538.1,873.1 538.4,876.5 539.8,879.7 544.2,879.0 548.1,881.4 552.2,882.3 556.4,883.1 558.3,885.6 561.4,886.4 562.0,883.4 563.8,880.9 564.7,878.1 567.1,876.0 570.6,876.6 573.1,874.7 576.1,876.8 579.8,876.8 583.1,878.1 586.4,877.6 589.7,877.2 593.1,878.1 596.4,877.3 599.5,875.7 603.0,876.4 605.7,874.9 608.0,873.1" fill="none" stroke="#000" stroke-width="2.3" stroke-linejoin="round" stroke-linecap="round"/>
<polyline points="608.0,873.1 611.2,872.8 613.5,870.6 616.4,869.8 619.4,867.7 623.0,868.1 624.7,864.9 627.7,862.7 629.7,859.8 633.2,859.1 637.1,859.7 639.7,856.4 641.8,852.9 646.4,852.7 649.0,849.8" fill="none" stroke="#000" stroke-width="2.3" stroke-linejoin="round" stroke-linecap="round"/>
<polyline points="608.0,873.1 608.3,877.4 609.7,881.4 611.9,883.9 614.0,886.4 614.7,889.7 617.2,892.1 620.7,892.7 624.3,893.2 626.4,896.4 628.1,892.5 631.4,889.7 634.8,887.3 634.5,883.0 636.4,879.7 638.5,881.7 641.4,881.4 644.3,883.4 646.4,886.4 648.0,889.4 652.7,887.7 654.4,890.6 656.3,893.1 657.0,896.2 659.2,898.7 660.8,901.5 661.3,904.7 658.3,898.3 657.9,901.4 656.4,904.1 655.2,906.9 654.9,910.0 653.8,914.1 655.2,917.9 656.6,921.6 658.5,924.1 661.2,925.9 663.3,928.3 662.8,932.7 667.1,934.7 668.3,938.3 670.0,941.6 671.8,944.8 673.3,948.3 672.7,952.1 671.9,956.0 671.6,959.9 672.2,962.9 672.6,965.9 675.3,968.3 674.9,971.6 675.1,975.5 677.5,979.1 676.6,983.2 677.4,986.5 678.6,989.8 678.1,993.2 678.3,996.6" fill="none" stroke="#000" stroke-width="2.3" stroke-linejoin="round" stroke-linecap="round"/>
<polyline points="678.3,996.6 674.3,994.7 669.9,994.9 666.2,998.0 661.6,996.6 660.3,1000.1 658.3,1003.2 658.7,1006.7 659.9,1009.9 655.8,1010.7 651.6,1011.6 647.4,1011.6 643.3,1011.6 640.5,1010.4 637.9,1008.9 634.9,1008.2 633.3,1004.2 629.2,1006.6 626.6,1004.9" fill="none" stroke="#000" stroke-width="2.3" stroke-linejoin="round" stroke-linecap="round"/>
<polyline points="678.3,996.6 679.9,999.7 682.5,1002.5 681.6,1006.6 683.7,1009.1 686.1,1011.4 686.6,1014.9 685.1,1018.1 685.7,1021.6 684.9,1024.9 685.6,1028.2 684.6,1031.5 684.9,1034.9 687.3,1032.9 690.8,1033.5 693.2,1031.5 696.6,1030.0 699.8,1028.0 703.2,1026.5 706.1,1023.9 709.7,1023.9 713.2,1023.2 716.9,1024.7 719.8,1021.3 723.2,1021.5 726.6,1020.6 729.9,1019.3 733.2,1018.2 737.7,1018.8 741.5,1016.6 743.2,1013.6 746.5,1013.2 746.2,1009.6 746.4,1005.9 743.2,1003.2 744.1,999.8 742.5,996.6 742.5,993.2 740.9,988.9 743.2,984.9 747.0,984.1 750.3,982.4 753.2,979.9 756.7,979.2 760.1,978.3 763.2,976.6 767.7,977.5 771.5,974.9 774.1,976.4 777.3,976.6 779.8,978.2 784.2,978.5 788.2,976.6 791.8,974.2 791.5,969.9 792.7,966.3 796.5,966.6 800.3,963.0 798.2,958.3 800.5,955.8 804.5,956.2 806.5,953.3 810.2,952.4 813.2,950.0 816.5,948.3 820.2,949.0 823.2,946.6 825.9,943.5 828.1,939.9 826.3,936.9 826.5,933.3 825.2,929.4 823.2,925.9" fill="none" stroke="#000" stroke-width="2.3" stroke-linejoin="round" stroke-linecap="round"/>
<polyline points="713.9,605.6 713.8,609.9 716.6,613.3 718.0,616.7 718.4,620.7 721.6,623.3 721.5,626.7 720.6,629.9 719.9,633.2 721.6,636.0 724.9,637.1 726.6,639.9 728.9,642.0 730.7,644.7 733.2,646.6 733.7,650.4 729.9,652.9 729.9,656.6 729.6,659.9 729.3,663.3 728.2,666.6 729.5,670.1 731.7,673.1 733.2,676.6 733.7,679.9 735.0,683.1 734.9,686.5 732.1,688.7 732.2,692.5 729.9,694.9 732.8,698.6 731.5,703.2 733.4,706.4 734.9,709.9 735.3,713.7 734.0,717.0 731.5,719.9 732.5,723.2 731.2,726.5 731.5,729.8 732.6,733.5 734.9,736.5" fill="none" stroke="#000" stroke-width="2.3" stroke-linejoin="round" stroke-linecap="round"/>
<polyline points="734.9,736.5 731.7,736.3 729.6,733.7 726.6,733.2 724.4,730.5 720.8,731.4 718.2,729.8 715.2,727.8 711.6,728.2 707.9,728.4 706.2,731.9 703.2,733.2 701.2,736.8 698.2,739.8 694.3,741.5 691.6,744.8 689.5,747.2 685.9,748.0 684.9,751.5 682.2,754.8 678.3,756.5 677.9,761.1 673.3,761.5" fill="none" stroke="#000" stroke-width="2.3" stroke-linejoin="round" stroke-linecap="round"/>
<polyline points="673.3,761.5 675.6,764.3 679.5,765.0 681.6,768.2 685.1,769.8 684.1,774.2 686.6,776.5 690.3,776.6 691.7,780.5 694.9,781.5 698.8,781.3 700.8,784.3 703.2,786.5 706.0,788.1 708.5,790.1 709.9,793.1 713.0,794.8 716.4,795.8 719.9,796.5 723.0,794.5 726.6,795.7 729.9,794.8 732.8,796.3 736.2,796.9 738.2,799.8 741.0,801.5 743.2,804.1 746.5,804.8 749.5,807.2 751.8,810.8 756.5,809.8 760.1,811.1 761.9,814.5 764.9,816.5 767.0,818.7 768.1,822.1 771.5,823.1 774.0,825.1 775.6,827.9 778.2,829.8 781.9,832.2 783.2,836.4" fill="none" stroke="#000" stroke-width="2.3" stroke-linejoin="round" stroke-linecap="round"/>
<polyline points="734.9,736.5 734.7,740.8 738.2,743.2 741.0,746.3 743.2,749.8 746.5,748.6 750.0,748.6 753.2,747.2 756.4,745.8 759.5,744.2 763.2,744.8 766.8,744.7 769.8,742.5 773.2,741.5 776.4,740.5 779.7,739.8 783.2,739.8 786.5,737.6 789.8,738.5 793.2,739.8 796.1,739.4 798.3,736.8 801.5,737.2 805.1,737.6 808.2,735.8 809.2,739.9 813.2,741.5 815.9,744.6 818.2,748.2 819.9,750.9 821.6,753.6 823.2,756.5 827.2,757.7 831.5,758.2 835.6,759.4 839.8,759.8 842.7,761.9 842.5,765.8 844.8,768.2 848.8,767.4 851.5,770.3 854.8,771.5 859.2,771.2 863.1,773.2 866.1,774.5 869.5,775.2 871.5,778.1 875.3,778.1 875.7,782.2 878.1,783.8" fill="none" stroke="#000" stroke-width="2.3" stroke-linejoin="round" stroke-linecap="round"/>
<polyline points="878.1,783.8 881.8,784.4 884.8,782.2 888.1,781.5 892.2,780.1 896.4,780.5 900.6,780.8 904.8,779.8 905.9,776.0 903.1,773.2 901.3,770.1 901.4,766.5 898.7,764.8 897.4,761.7 894.8,759.8 896.4,757.0 897.2,753.4 901.4,753.2 903.9,749.5 908.1,748.2 909.6,744.1 909.8,739.8 912.5,737.9 913.6,734.6 917.0,733.2 918.1,729.8 921.8,728.0 923.4,724.1 926.4,721.5 928.5,719.2 932.0,719.0 933.8,716.4 936.4,714.9" fill="none" stroke="#000" stroke-width="2.3" stroke-linejoin="round" stroke-linecap="round"/>
<polyline points="878.1,783.8 876.7,787.3 878.2,790.2 879.8,793.1 879.1,797.3 878.1,801.5 875.6,804.8 873.1,808.1 871.6,812.2 871.5,816.5 871.6,819.4 873.8,821.5" fill="none" stroke="#000" stroke-width="2.3" stroke-linejoin="round" stroke-linecap="round"/>
<polyline points="873.8,821.5 874.3,824.8 874.8,828.1 872.3,830.7 869.0,832.2 866.5,834.8 863.6,837.2 858.6,833.4 856.5,838.1 854.9,835.2 851.6,834.1 849.8,831.4 846.6,830.1 843.1,829.8 839.2,831.6 834.8,831.4 831.5,828.9 828.1,826.4 825.9,823.7 823.2,821.5 819.9,822.5 816.5,823.1 815.6,826.7 812.3,827.8 809.8,829.8 806.5,830.7 802.8,830.3 799.8,832.4 797.2,833.6 794.5,834.9 791.5,834.8 787.5,836.2 783.2,836.4" fill="none" stroke="#000" stroke-width="2.3" stroke-linejoin="round" stroke-linecap="round"/>
<polyline points="873.8,821.5 877.4,822.8 881.2,821.4 884.8,822.5 888.0,821.1 891.5,822.2 894.8,821.5 897.9,823.1 901.3,823.4 904.8,823.1 909.4,821.8 913.1,824.8 915.8,826.1 918.1,828.1 918.3,831.6 916.5,834.7 916.4,838.1 918.8,840.4 918.0,844.7 921.4,846.4 924.8,845.9 927.4,847.7 929.7,849.8 929.8,853.3 931.4,856.4 931.9,860.5 927.1,861.4 926.4,864.8 923.4,865.4 920.1,865.1 918.1,868.1 917.4,872.3 916.4,876.4 916.1,880.0 914.0,882.5 911.4,884.7 911.7,889.1 909.8,893.1 907.3,896.5 904.8,899.7 901.8,900.3 898.6,900.3 896.6,904.1 893.1,903.1 888.6,902.5 886.3,906.0 883.1,908.1 882.7,911.6 880.4,914.6 879.8,918.1 882.9,919.4 885.0,921.7 886.4,924.7 887.6,928.3 890.5,930.5 893.1,933.0 893.4,936.6 895.0,939.9 891.9,942.8 890.0,946.6 890.8,949.6 890.8,952.8 891.6,955.9" fill="none" stroke="#000" stroke-width="2.3" stroke-linejoin="round" stroke-linecap="round"/>
<polyline points="783.2,836.4 783.5,840.4 788.6,842.1 788.2,846.4 790.6,849.3 791.0,852.9 791.5,856.4 790.4,859.7 789.8,863.0 789.8,866.4 791.5,871.1 788.2,874.7 791.5,877.5 793.2,881.4 795.0,884.5 798.0,886.6 799.8,889.7 803.6,889.8 804.7,894.2 808.2,894.7 809.8,897.5 811.7,900.1 813.2,903.1 815.8,905.4 818.2,908.1 817.1,912.2 816.5,916.4 817.7,919.5 818.5,922.7 821.5,924.7 826.9,929.3 831.5,927.3 834.7,925.9 838.1,924.9 840.3,928.5 843.1,931.6 844.1,934.4 843.2,938.0 846.5,939.9 849.7,940.6 851.5,943.3 847.6,945.6 846.5,949.9 843.7,952.7 843.1,956.6 846.7,957.8 849.8,959.9 853.0,961.2 856.5,961.6 858.1,965.6 861.5,968.3" fill="none" stroke="#000" stroke-width="2.3" stroke-linejoin="round" stroke-linecap="round"/>
<polyline points="861.5,968.3 862.7,965.2 862.5,961.4 866.5,959.9 869.6,958.9 870.9,954.8 874.8,954.9 879.1,955.2 883.1,956.6 885.9,953.9 889.8,953.3 891.4,956.6" fill="none" stroke="#000" stroke-width="2.3" stroke-linejoin="round" stroke-linecap="round"/>
<polyline points="891.6,955.9 894.6,956.8 897.3,958.3 900.0,959.9 903.1,961.5 907.3,960.2 910.0,963.2 912.5,966.8 917.2,963.7 920.0,966.6 924.5,965.7 928.3,968.2 928.2,964.2 926.7,960.5 925.9,956.6 929.5,954.7 933.3,953.2 936.6,950.7 939.9,948.2 943.5,948.8 946.2,944.6 949.9,946.6 950.4,943.1 954.1,941.5 954.9,938.3 955.4,934.9 953.1,931.1 956.6,928.3 957.7,924.9 960.8,923.6 963.3,921.6 966.7,921.4 969.9,919.9 971.5,916.2 975.7,915.8 978.2,913.3 980.8,912.6 983.2,911.6 984.6,914.5 987.7,915.3 989.9,917.3 994.1,917.2 998.2,918.3 1002.6,918.5 1006.6,916.6 1010.6,918.1 1014.9,918.3 1017.5,920.5 1017.5,924.2 1019.9,926.6" fill="none" stroke="#000" stroke-width="2.3" stroke-linejoin="round" stroke-linecap="round"/>
<polyline points="861.5,968.3 862.1,972.1 866.2,972.4 868.1,974.9 869.5,979.0 869.8,983.2 865.8,985.0 861.5,984.9 857.2,985.5 853.1,986.6 852.0,989.8 853.7,993.5 851.5,996.6 850.3,1000.1 850.1,1004.2 846.5,1006.6 847.0,1011.0 844.8,1014.9 841.9,1017.9 838.1,1019.9 834.1,1019.2 833.1,1023.2 835.0,1027.2 834.8,1031.5 835.2,1034.6 836.5,1037.3 838.1,1039.9 835.1,1040.4 832.7,1042.4 829.8,1043.2 826.8,1040.8 823.2,1039.9 819.4,1037.6 816.8,1042.6 813.2,1041.5 811.2,1044.5 807.7,1045.0 804.8,1046.5 802.8,1049.4 798.7,1049.8 797.2,1053.2 798.7,1055.9 801.0,1058.2 801.5,1061.5 802.9,1064.2 804.9,1066.6 804.8,1069.8 807.3,1072.4 809.8,1074.8 812.9,1075.2 816.2,1074.9 818.2,1078.2 819.7,1081.1 820.9,1084.3 824.8,1084.8" fill="none" stroke="#000" stroke-width="2.3" stroke-linejoin="round" stroke-linecap="round"/>
<polyline points="824.8,1084.8 821.3,1085.2 819.9,1089.2 816.5,1089.8 812.6,1090.6 811.6,1095.1 808.2,1096.5 805.1,1097.7 801.8,1098.5 799.8,1101.5 796.3,1103.7 793.2,1106.5 790.5,1107.8 787.3,1107.8 784.8,1109.8 781.8,1112.0 778.2,1113.2 778.2,1117.5 776.5,1121.5 776.5,1125.8 778.2,1129.8 776.4,1132.5 774.7,1135.3 773.2,1138.1 774.2,1142.7 771.5,1146.5 767.7,1148.0 767.7,1151.7 766.5,1154.8 763.5,1157.7 761.5,1161.5 759.6,1163.6 759.2,1166.4" fill="none" stroke="#000" stroke-width="2.3" stroke-linejoin="round" stroke-linecap="round"/>
<polyline points="824.8,1084.8 829.1,1084.5 833.1,1083.2 838.0,1083.7 839.8,1088.2 844.0,1089.3 848.1,1088.2 851.1,1086.8 853.7,1084.9 856.5,1083.2 860.3,1081.4 863.1,1078.2 865.6,1081.5 869.8,1081.5 873.1,1080.9 876.3,1079.3 879.8,1079.8 883.0,1078.8 886.7,1080.5 889.8,1078.2 893.0,1076.8 896.1,1074.9 899.8,1076.5 903.6,1076.8 905.6,1071.9 909.8,1073.2 912.8,1072.6 915.4,1071.1 918.0,1069.5 920.8,1068.2" fill="none" stroke="#000" stroke-width="2.3" stroke-linejoin="round" stroke-linecap="round"/>
<polyline points="1031.5,966.6 1029.3,969.8 1027.7,973.8 1023.2,974.9 1020.9,976.8 1018.7,978.9 1015.9,980.2 1013.2,981.6 1010.3,978.5 1006.6,976.6 1003.6,976.3 1001.2,974.0 998.2,973.9 994.9,973.5 991.5,973.2 988.2,972.6 984.7,972.6 981.9,975.4 978.2,974.9 974.9,975.4 971.7,976.5 968.3,975.9 965.2,978.0 960.8,976.6 958.3,979.9 955.0,981.2 951.9,983.0 948.3,983.2 944.6,983.2 941.1,984.0 938.3,986.6 939.0,989.9 938.2,993.4 939.9,996.5 939.4,1000.6 940.0,1004.5 941.6,1008.2 939.0,1010.5 938.4,1013.7 938.6,1017.3 936.6,1019.9 935.0,1023.0 935.3,1026.8 933.3,1029.9 934.5,1032.9 936.6,1035.4 938.3,1038.2 940.2,1040.8 942.1,1043.4 943.3,1046.5 940.5,1048.2 937.0,1048.6 934.9,1051.5 932.3,1054.6 928.3,1054.8 927.8,1057.9 926.6,1060.6 924.9,1063.2 923.8,1066.5 920.6,1068.2" fill="none" stroke="#000" stroke-width="2.3" stroke-linejoin="round" stroke-linecap="round"/>
<polyline points="1058.2,927.3 1058.3,931.3 1054.5,933.3 1053.2,936.6 1052.2,939.5 1049.7,941.4 1048.9,944.5 1046.5,946.6 1046.3,950.0 1043.1,951.5 1042.5,954.7 1039.9,956.6 1039.0,960.1 1034.5,960.6 1033.5,964.0 1031.5,966.6" fill="none" stroke="#000" stroke-width="2.3" stroke-linejoin="round" stroke-linecap="round"/>
<polyline points="1031.5,966.6 1034.1,968.2 1037.4,967.4 1039.9,969.4 1042.9,971.7 1044.6,975.1 1046.4,978.4 1049.4,980.8 1049.9,985.1 1054.1,986.5 1056.3,989.5 1058.9,992.2 1063.6,993.1 1065.4,996.0 1067.4,998.8 1068.3,1002.1 1067.9,1005.4 1070.8,1007.0 1074.1,1006.9 1077.0,1003.3 1081.6,1003.5 1085.4,1005.0 1089.2,1006.4 1090.0,1010.4 1094.0,1011.1 1095.1,1014.9 1094.9,1018.7 1096.8,1021.1 1099.7,1022.1 1097.4,1023.8 1095.9,1026.3 1092.7,1028.7 1089.2,1030.6 1086.9,1032.7 1087.3,1035.8 1087.0,1038.6 1086.1,1041.2" fill="none" stroke="#000" stroke-width="2.3" stroke-linejoin="round" stroke-linecap="round"/>
<polyline points="920.6,1068.2 923.1,1071.1 926.8,1070.5 929.9,1071.5 932.6,1073.4 935.8,1074.4 938.3,1076.5 941.1,1079.1 944.9,1079.8 948.3,1078.7 951.2,1076.5 954.9,1076.5 957.6,1074.3 957.6,1071.1 958.3,1068.2 961.4,1068.7 963.4,1065.0 966.6,1065.8 968.0,1069.6 971.6,1071.5 975.3,1069.9 978.2,1073.1 981.6,1073.2 985.1,1073.6 988.4,1075.0 991.6,1076.5 993.6,1080.7 991.6,1084.8" fill="none" stroke="#000" stroke-width="2.3" stroke-linejoin="round" stroke-linecap="round"/>
<polygon points="446.5,585.9 449.3,584.2 450.3,581.2 451.5,578.3 453.2,575.8 452.3,572.4 454.2,570.0 456.7,567.7 455.7,564.1 457.5,561.6 460.7,559.7 460.2,555.3 463.1,553.3 466.1,552.0 468.0,548.9 471.5,548.3 474.2,546.5 476.7,544.4 479.8,543.3 483.1,542.0 487.1,542.3 489.8,539.3 493.1,537.9 496.4,536.2 499.8,535.0 504.2,533.1 504.8,528.3 509.3,527.5 511.4,523.3 515.4,521.3 519.8,521.7 523.2,520.4 526.4,522.2 529.8,522.3 533.2,524.4 536.4,526.7 540.2,525.9 542.3,529.0 544.7,531.5 548.1,531.7 551.9,531.0 555.8,530.5 559.7,530.7 563.7,528.4 566.5,531.3 569.8,532.4 573.1,533.3 577.0,533.5 579.1,537.8 582.9,538.2 586.4,539.3 590.3,540.1 594.0,541.6 598.1,541.6 601.4,540.5 604.9,540.0 608.0,538.3 611.8,538.4 615.5,540.0 619.4,537.7 623.0,539.3 626.4,538.8 630.1,540.0 632.9,536.6 636.4,536.6 639.5,538.5 641.4,541.6 644.8,542.4 647.6,545.2 651.3,545.0 655.2,544.1 659.1,543.8 663.0,543.3 666.5,543.0 669.5,545.4 673.0,545.0 672.9,545.0 668.3,543.3 669.0,546.0 670.6,548.3 669.5,552.0 665.9,553.3 664.5,556.5 664.0,559.8 664.9,563.3 665.3,566.7 667.5,569.7 666.6,573.3 667.9,576.0 668.2,579.1 669.9,581.6 674.0,583.8 674.9,588.3 678.0,586.4 681.6,586.6 684.1,583.3 686.6,580.0 687.9,576.9 689.5,574.2 691.6,571.6 693.7,569.7 696.6,569.3 699.3,571.0 701.6,573.3 701.1,576.8 703.9,579.8 703.2,583.3 704.6,586.5 704.3,589.9 703.9,593.3 706.0,595.6 705.4,598.9 706.6,601.6 709.5,605.0 713.9,605.6 714.5,602.6 713.2,599.5 714.9,596.6 712.4,593.5 715.0,589.9 713.9,586.6 715.2,583.4 714.9,580.0 714.9,576.6 715.9,573.0 718.2,570.0 722.2,567.4 726.6,569.3 729.4,566.1 733.1,567.3 736.5,567.3 739.9,567.7 743.4,565.7 746.5,568.3 750.0,567.7 753.0,565.6 756.5,565.0 759.8,564.2 763.3,564.3 766.5,563.3 769.9,563.9 773.2,562.4 776.5,562.6 780.0,561.0 783.2,563.2 786.5,563.3 790.0,563.0 793.2,561.6 792.0,558.4 791.5,555.0 794.8,552.6 797.6,555.2 799.8,558.3 803.4,559.7 804.8,563.3 808.0,565.0 811.5,566.0 815.0,564.7 818.2,562.6 820.8,560.7 819.5,556.3 823.2,555.0 826.5,556.6 824.8,560.0 826.5,563.3 828.8,564.8 831.5,565.0 833.6,561.4 836.5,558.3 835.5,554.1 836.5,550.0 840.0,549.0 843.1,547.3 846.5,547.5 849.8,547.6 853.1,546.6 856.9,549.3 861.5,548.3 862.3,551.4 864.8,553.3 867.3,549.7 871.5,548.3 874.5,546.0 878.1,545.0 882.1,543.0 886.4,543.3 887.2,547.9 891.4,550.0 892.6,553.0 894.4,555.7 896.4,558.3 899.5,561.1 903.1,563.3 906.1,564.7 905.8,569.5 909.8,570.0 912.5,573.1 914.8,576.6 912.6,579.1 912.0,582.5 909.8,584.9 907.2,588.0 907.3,591.4 908.1,594.9 908.6,599.0 906.1,602.6 906.4,606.6 909.1,610.0 913.1,611.6 915.3,614.3 919.2,613.9 921.4,616.6 924.1,619.8 926.4,623.3 925.6,627.2 929.2,629.7 929.7,633.2 926.3,634.2 924.9,637.3 923.1,639.9 924.1,643.9 920.9,646.6 919.8,649.9 918.3,653.1 919.1,657.1 916.4,659.9 916.6,663.5 914.8,666.6 915.8,670.0 918.6,671.6 921.4,673.2 925.1,675.6 924.7,679.9 923.7,683.5 924.6,686.8 926.4,689.9 928.0,693.0 929.2,696.3 928.1,699.9 928.8,703.2 931.3,705.5 933.1,708.2 933.0,712.4 936.4,714.9 938.3,718.8 938.1,723.2 939.8,726.5 940.6,730.3 943.1,733.2 947.1,731.9 951.4,731.5 954.1,730.2 957.4,730.3 959.7,728.2 963.1,728.5 966.4,730.0 969.7,728.2 973.1,728.2 976.2,730.4 979.7,729.8 982.4,729.5 984.7,728.2 983.7,731.8 985.6,734.3 988.0,736.5 992.1,737.8 996.4,738.2 999.3,739.1 1001.4,741.5 999.8,745.3 1000.5,749.3 999.7,753.2 996.4,754.3 995.6,757.9 993.0,759.8 991.1,763.0 989.8,766.5 988.0,769.8 987.5,773.3 985.8,776.5 984.7,779.8 985.5,783.1 985.5,786.5 986.4,789.8 986.2,793.5 985.0,796.8 983.0,799.8 984.4,803.3 986.0,806.6 988.0,809.8 986.6,815.1 981.4,813.1 979.6,815.9 978.8,819.1 976.4,821.5 980.1,819.7 982.3,822.7 985.6,823.2 988.2,825.0 986.1,828.9 986.6,833.3 983.2,834.4 982.1,837.7 979.9,840.0 978.6,843.8 979.0,847.8 978.2,851.6 979.2,854.9 981.1,857.5 983.2,860.0 986.8,861.8 986.1,865.3 986.6,868.3 989.9,869.9 993.5,871.1 996.6,873.3 999.5,875.7 1003.8,875.6 1006.6,878.3 1009.0,881.9 1013.2,883.3 1013.6,887.2 1014.0,891.1 1013.2,894.9 1010.8,898.6 1006.6,899.9 1009.9,902.4 1013.2,904.9 1017.0,905.0 1019.4,907.3 1021.5,909.9 1020.7,912.8 1020.2,915.8 1018.2,918.3 1018.6,922.5 1019.9,926.6 1023.2,926.7 1026.5,923.5 1029.9,926.6 1034.0,927.7 1037.7,925.6 1041.5,924.9 1044.4,925.7 1047.4,926.4 1049.9,928.3 1054.2,929.2 1058.2,927.3 1061.5,926.2 1063.2,922.7 1066.5,921.6 1069.9,919.2 1073.2,916.6 1075.3,920.2 1078.2,923.3 1080.9,921.9 1083.2,919.9 1087.2,918.5 1091.5,918.3 1094.1,915.1 1098.2,914.9 1096.8,910.9 1096.5,906.6 1092.3,906.3 1088.2,906.6 1086.5,904.1 1084.8,901.6 1088.1,899.8 1091.5,898.3 1094.6,897.9 1097.2,896.5 1099.8,894.9 1096.3,892.5 1096.5,888.3 1100.0,888.2 1101.5,885.0 1100.3,889.3 1104.8,890.0 1103.2,892.2 1103.2,894.9 1107.1,895.7 1109.6,892.2 1113.2,891.6 1116.5,894.9 1119.3,893.3 1122.6,892.6 1124.8,890.0 1128.4,890.3 1131.5,888.3 1132.5,891.7 1135.5,893.1 1138.1,894.9 1139.3,891.4 1143.1,891.6 1146.0,890.8 1149.2,890.7 1151.5,888.3 1154.4,885.3 1158.1,883.3 1161.4,880.7 1164.8,878.3 1166.8,875.4 1170.1,875.6 1173.1,875.0 1176.6,874.4 1179.4,871.8 1183.1,871.6 1187.3,873.0 1189.6,869.0 1193.1,868.3 1196.0,866.0 1199.9,866.4 1203.1,865.0 1207.6,866.0 1211.4,863.3 1214.3,866.5 1218.1,868.3 1217.3,872.8 1219.7,876.6 1221.9,878.9 1223.2,882.0 1226.4,883.3 1227.5,886.9 1229.7,890.0 1234.0,890.5 1238.1,891.6 1242.0,889.5 1246.4,890.0 1250.0,889.6 1253.1,887.9 1256.4,886.6 1259.6,887.8 1263.3,886.3 1266.4,888.3 1269.7,887.4 1273.0,888.7 1276.4,888.3 1279.2,890.9 1283.0,891.6 1283.5,895.9 1284.7,899.9 1285.8,903.6 1282.4,905.5 1281.4,908.3 1280.6,911.6 1278.1,913.8 1276.4,916.6 1272.2,915.2 1269.5,918.1 1266.4,919.9 1263.3,921.9 1260.0,923.0 1256.4,923.3 1252.9,922.9 1249.2,921.5 1246.4,924.9 1242.8,925.1 1240.1,928.2 1236.4,928.3 1232.8,928.4 1230.6,933.1 1226.4,931.6 1223.6,934.2 1219.0,931.6 1216.4,934.9 1214.9,937.9 1211.3,938.7 1209.8,941.6 1210.4,945.1 1207.3,948.0 1208.1,951.6 1205.0,955.3 1206.4,959.9 1204.1,963.3 1201.4,966.6 1198.9,970.4 1199.8,974.9 1202.1,978.7 1206.4,979.9 1208.3,982.5 1211.8,983.4 1213.1,986.6 1214.5,989.8 1218.1,990.5 1214.2,990.7 1210.2,989.8 1206.4,990.5 1202.8,991.7 1199.8,990.0 1199.0,986.7 1195.9,985.4 1193.6,987.1 1191.6,989.2 1188.4,991.2 1185.4,993.5 1182.0,994.2 1179.2,996.0 1176.9,997.4 1175.4,999.7 1174.6,1002.7 1173.0,1005.3 1170.7,1007.1 1168.0,1007.8 1163.0,1007.2 1163.0,1010.9 1159.3,1010.9 1155.6,1013.4 1154.2,1016.0 1151.9,1017.7 1146.9,1017.7 1145.4,1021.0 1141.9,1022.1 1138.6,1020.1 1136.3,1023.3 1133.2,1027.0 1133.2,1032.0 1134.3,1034.6 1135.7,1037.0 1135.4,1039.5 1134.5,1041.9 1134.5,1046.9 1133.7,1049.9 1130.8,1050.6 1128.2,1053.3 1124.6,1052.5 1120.8,1053.7 1118.3,1049.4 1116.2,1047.8 1114.6,1045.7 1111.1,1047.3 1108.4,1044.4 1105.4,1042.7 1102.2,1043.8 1099.2,1043.0 1096.0,1043.2 1093.1,1040.1 1089.4,1041.7 1086.1,1041.3 1078.6,1041.3 1069.9,1043.2 1060.0,1047.5 1051.5,1051.5 1046.5,1058.2 1041.5,1068.2 1031.5,1078.2 1028.2,1073.2 1021.5,1074.8 1016.6,1071.5 1014.9,1076.5 1006.6,1078.2 996.6,1083.2 986.6,1088.1 976.6,1094.8 966.6,1099.8 956.6,1106.5 948.3,1113.1 943.3,1119.8 929.7,1133.1 919.8,1141.5 909.8,1148.1 899.8,1154.8 889.8,1161.5 879.8,1168.1 869.8,1176.4 859.8,1184.8 849.8,1193.1 841.5,1203.1 834.8,1211.4 833.1,1219.7 828.1,1226.4 819.8,1234.7 808.2,1244.7 809.9,1241.5 813.2,1239.7 816.1,1236.7 818.2,1233.1 815.5,1234.5 812.7,1235.5 809.8,1236.4 807.5,1234.5 804.8,1233.1 801.8,1230.2 798.2,1228.1 798.8,1224.9 801.5,1223.1 799.7,1219.8 798.2,1216.4 796.9,1212.3 796.5,1208.1 793.4,1205.2 791.5,1201.4 790.1,1204.1 788.2,1206.4 785.9,1208.9 783.3,1210.9 779.8,1211.4 776.9,1209.9 774.7,1207.6 773.2,1204.8 771.3,1202.1 768.2,1203.1 765.7,1205.6 763.2,1208.1 762.0,1211.1 759.7,1213.6 758.2,1216.4 755.0,1217.6 753.2,1214.7 753.4,1211.4 752.7,1208.5 749.9,1206.4 751.9,1202.4 750.5,1198.1 751.9,1195.5 752.7,1192.7 753.2,1189.8 753.6,1185.6 753.2,1181.4 757.5,1179.4 758.2,1174.8 756.8,1170.4 759.2,1166.4 755.7,1164.6 753.2,1161.5 749.3,1163.7 744.9,1163.1 740.7,1163.9 736.5,1164.8 733.2,1164.4 729.9,1163.6 726.6,1163.1 723.0,1163.8 719.6,1163.6 716.6,1161.5 713.2,1160.7 709.9,1161.7 706.6,1161.5 702.7,1162.0 700.2,1158.4 696.6,1158.1 693.3,1158.6 691.1,1161.2 688.2,1162.5 684.4,1159.1 679.9,1161.5 675.8,1162.8 671.6,1163.1 667.4,1162.6 663.3,1161.5 662.2,1157.3 662.6,1153.1 663.4,1149.0 663.3,1144.8 666.0,1142.7 668.6,1140.5 668.3,1136.5 670.7,1133.6 670.1,1129.7 671.6,1126.5 673.4,1123.4 670.8,1119.5 673.3,1116.5 670.4,1113.8 667.8,1110.8 664.9,1108.2 662.2,1105.8 660.1,1102.9 658.3,1099.8 657.3,1095.7 656.6,1091.5 655.1,1088.5 652.3,1087.0 649.9,1084.8 647.0,1082.2 644.8,1078.9 641.6,1076.5 641.0,1073.0 639.5,1069.8 638.3,1066.5 635.5,1064.9 634.1,1061.8 631.6,1059.9 629.2,1056.5 626.6,1053.2 627.6,1049.5 630.0,1046.5 632.3,1042.7 631.6,1038.2 630.4,1035.5 628.9,1032.9 628.3,1029.9 626.3,1026.8 626.4,1023.1 625.0,1019.9 626.2,1016.6 627.4,1013.3 628.3,1009.9 627.7,1007.3 626.6,1004.9 626.1,1001.2 628.3,998.2 626.7,995.7 625.0,993.2 626.3,989.6 624.2,986.5 623.3,983.2 621.9,980.0 619.3,977.2 620.0,973.2 620.6,969.8 617.6,967.8 616.6,964.9 613.5,962.8 611.6,959.9 610.0,956.6 607.5,954.4 604.6,952.9 601.6,951.6 598.2,952.1 596.3,948.8 593.3,948.3 591.7,944.9 590.0,941.6 588.1,939.0 585.3,937.4 583.3,934.9 581.6,932.2 580.0,929.3 576.4,930.1 573.0,930.4 569.7,929.7 566.7,931.9 563.1,931.3 559.7,931.4 556.2,930.6 552.8,930.7 549.8,933.0 546.4,933.4 542.9,932.9 539.8,934.7 536.6,932.9 533.1,933.5 529.8,933.0 526.1,931.7 523.0,933.6 519.8,934.7 515.9,935.1 512.9,933.3 509.8,931.4 506.5,930.6 503.0,931.1 499.8,929.7 495.1,928.3 494.2,932.9 491.5,934.7 487.3,934.3 483.1,934.7 483.6,931.3 483.0,928.3 479.8,926.4 478.0,923.2 476.1,920.3 473.1,918.1 470.3,916.4 467.4,914.8 466.2,911.1 463.1,909.7 459.9,908.3 456.6,907.1 453.2,906.4 449.8,907.1 446.5,906.6 443.2,906.4 440.1,906.0 437.3,904.8 433.9,905.6 431.5,903.1 431.4,898.4 427.7,896.4 424.8,893.7 422.0,894.5 419.8,896.4 416.5,896.5 413.2,898.7 409.8,896.4 406.5,897.4 402.5,896.5 399.9,899.7 396.4,899.6 393.4,902.1 389.9,901.4 386.2,901.2 382.7,900.8 379.9,898.1 375.7,897.7 371.5,898.1 369.3,894.1 364.9,893.1 363.2,889.1 359.3,890.8 356.6,889.7 353.2,889.4 350.1,887.3 346.6,888.1 342.8,888.3 339.6,886.8 336.6,884.7 332.6,884.4 329.7,881.9 326.6,879.7 323.2,880.5 319.9,881.4 319.0,884.7 318.2,888.1 318.7,892.5 316.6,896.4 313.5,898.4 309.9,899.1 306.8,896.6 304.9,893.1 300.8,893.1 296.6,893.1 292.9,893.0 289.6,891.8 286.6,889.7 282.8,892.5 278.3,891.4 275.8,889.6 272.5,889.7 269.9,888.1 265.6,888.2 261.6,886.4 258.0,885.3 255.7,887.7 253.3,889.7 250.1,888.3 246.7,888.3 243.3,888.1 240.0,888.6 236.6,889.0 233.3,889.7 230.5,888.7 227.6,887.8 225.0,886.4 220.7,886.1 216.6,884.7 214.4,886.9 213.9,890.8 210.0,891.4 209.2,895.6 205.0,896.4 203.3,893.3 203.3,889.7 205.9,886.8 206.7,883.1 209.6,881.0 211.7,878.1 217.2,878.6 218.3,873.1 221.5,873.0 224.0,871.3 226.6,869.8 230.0,867.3 233.3,864.8 236.4,862.0 240.0,859.8 242.5,856.2 246.6,854.8 250.2,852.6 253.3,849.8 256.5,848.8 260.1,848.6 261.6,844.8 263.9,840.9 268.3,839.8 271.2,837.4 274.9,838.1 278.5,835.9 281.6,833.1 284.3,831.4 286.3,828.9 288.3,826.4 289.8,823.6 292.8,822.1 294.9,819.8 297.8,817.1 296.1,812.8 298.3,809.8 300.3,806.1 303.3,803.1 306.1,801.5 308.7,799.7 309.9,796.5 312.1,794.0 313.1,790.9 314.9,788.1 316.3,785.2 318.2,782.5 319.9,779.8 323.2,777.2 326.6,774.8 328.5,771.1 331.6,768.2 331.5,763.8 329.9,759.8 328.3,755.9 324.9,753.2 327.1,750.5 328.2,747.2 331.9,747.6 335.5,748.3 338.2,744.8 341.3,742.0 344.9,739.8 345.3,736.8 347.7,734.5 348.2,731.5 350.1,727.7 353.2,724.9 353.8,720.7 353.9,716.5 352.5,713.3 355.3,709.6 352.6,706.5 355.5,702.6 353.2,698.2 357.0,699.7 359.1,696.7 361.5,694.9 363.5,692.7 364.8,690.0 367.2,688.2 366.6,684.7 368.2,681.5 368.6,678.2 371.5,676.6 374.7,675.1 378.2,674.9 379.4,672.1 381.5,669.9 381.7,666.5 381.0,663.1 382.5,659.9 381.5,656.6 380.6,653.4 381.5,649.9 382.5,645.8 382.5,641.6 382.8,638.3 386.0,636.4 386.5,633.2 389.9,630.6 391.5,626.6 395.1,625.7 395.9,622.1 398.2,619.9 400.8,617.4 402.1,613.9 404.9,611.6 408.1,608.8 409.8,604.9 413.8,603.6 413.2,598.5 416.5,596.6 419.0,594.4 422.5,594.0 424.8,591.6 428.7,590.9 432.4,589.1 436.5,589.3 439.5,587.1 442.8,586.1 446.5,585.9" fill="none" stroke="#000" stroke-width="2.3" stroke-linejoin="round"/>
<circle cx="1089.8" cy="1055.0" r="1.60" fill="#000"/>
<circle cx="1167.4" cy="1046.9" r="2.24" fill="#000"/>
<circle cx="1163.8" cy="1049.8" r="1.44" fill="#000"/>
<circle cx="1182.3" cy="1039.4" r="1.84" fill="#000"/>
<circle cx="1100.3" cy="1086.0" r="1.68" fill="#000"/>
<circle cx="1103.8" cy="1083.6" r="0.88" fill="#000"/>
<circle cx="1165.5" cy="1015.9" r="1.52" fill="#000"/>
<circle cx="1177.3" cy="1013.4" r="2.00" fill="#000"/>
<circle cx="1180.0" cy="1010.0" r="1.36" fill="#000"/>
<circle cx="1172.0" cy="1011.0" r="1.12" fill="#000"/>
<circle cx="1196.5" cy="996.0" r="1.04" fill="#000"/>
<circle cx="1201.5" cy="996.6" r="1.20" fill="#000"/>
<circle cx="1197.0" cy="991.5" r="0.88" fill="#000"/>
<circle cx="1149.4" cy="1020.2" r="1.12" fill="#000"/>
<circle cx="1097.0" cy="1046.5" r="0.88" fill="#000"/>
<circle cx="1103.0" cy="1047.0" r="0.88" fill="#000"/>
<circle cx="1158.0" cy="1012.5" r="0.96" fill="#000"/>
<circle cx="1185.0" cy="998.0" r="0.96" fill="#000"/>
<circle cx="981.6" cy="1135.8" r="1.28" fill="#000"/>
<circle cx="1042.2" cy="1114.8" r="1.12" fill="#000"/>
<circle cx="1044.5" cy="1116.2" r="0.72" fill="#000"/>
<circle cx="965.6" cy="1121.5" r="1.04" fill="#000"/>
<circle cx="838.0" cy="1219.5" r="1.20" fill="#000"/>
<circle cx="826.5" cy="1239.0" r="0.80" fill="#000"/>
<text x="606.6" y="629.1" font-size="21.37" text-anchor="middle" textLength="32.1" lengthAdjust="spacingAndGlyphs" class="w">SJP</text>
<text x="826.6" y="657.1" font-size="21.37" text-anchor="middle" textLength="27.2" lengthAdjust="spacingAndGlyphs" class="w">RP</text>
<text x="480.6" y="689.1" font-size="21.37" text-anchor="middle" textLength="28.9" lengthAdjust="spacingAndGlyphs" class="w">AR</text>
<text x="383.6" y="814.1" font-size="21.37" text-anchor="middle" textLength="25.3" lengthAdjust="spacingAndGlyphs" class="w">PP</text>
<text x="783.6" y="783.1" font-size="21.37" text-anchor="middle" textLength="45.4" lengthAdjust="spacingAndGlyphs" class="w">ARQ</text>
<text x="564.6" y="828.1" font-size="21.37" text-anchor="middle" textLength="32.4" lengthAdjust="spacingAndGlyphs" class="w">MA</text>
<text x="944.6" y="839.1" font-size="21.37" text-anchor="middle" textLength="27.3" lengthAdjust="spacingAndGlyphs" class="w">CP</text>
<text x="700.6" y="875.1" font-size="21.37" text-anchor="middle" textLength="28.7" lengthAdjust="spacingAndGlyphs" class="w">BA</text>
<text x="857.6" y="879.1" font-size="21.37" text-anchor="middle" textLength="18.8" lengthAdjust="spacingAndGlyphs" class="w">PI</text>
<text x="564.6" y="911.1" font-size="21.37" text-anchor="middle" textLength="27.6" lengthAdjust="spacingAndGlyphs" class="w">AS</text>
<text x="1147.6" y="951.1" font-size="21.37" text-anchor="middle" textLength="27.0" lengthAdjust="spacingAndGlyphs" class="w">VP</text>
<text x="916.6" y="1002.1" font-size="21.37" text-anchor="middle" textLength="48.8" lengthAdjust="spacingAndGlyphs" class="w">MMP</text>
<text x="1003.6" y="1025.1" font-size="21.37" text-anchor="middle" textLength="44.0" lengthAdjust="spacingAndGlyphs" class="w">MSP</text>
<text x="743.6" y="1058.1" font-size="21.37" text-anchor="middle" textLength="19.0" lengthAdjust="spacingAndGlyphs" class="w">IT</text>
<text x="851.6" y="1139.1" font-size="21.37" text-anchor="middle" textLength="37.6" lengthAdjust="spacingAndGlyphs" class="w">LSP</text>
<rect x="191.50" y="1266" width="183.00" height="30" fill="#FBF4EF"/>
<rect x="374.00" y="1266" width="183.00" height="30" fill="#F3C4B1"/>
<rect x="556.50" y="1266" width="183.00" height="30" fill="#EC866C"/>
<rect x="739.00" y="1266" width="183.00" height="30" fill="#EA473B"/>
<rect x="921.50" y="1266" width="183.00" height="30" fill="#BD2426"/>
<rect x="1104.00" y="1266" width="182.50" height="30" fill="#6B0A13"/>
<rect x="191.5" y="1266" width="1095.0" height="30" fill="none" stroke="#000" stroke-width="1.7"/>
<line x1="191.5" x2="191.5" y1="1296" y2="1303.9" stroke="#000" stroke-width="1.67"/>
<text x="190.7" y="1330.5" font-size="25.64" text-anchor="middle" textLength="16.0" lengthAdjust="spacingAndGlyphs">0</text>
<line x1="374.0" x2="374.0" y1="1296" y2="1303.9" stroke="#000" stroke-width="1.67"/>
<text x="373.2" y="1330.5" font-size="25.64" text-anchor="middle" textLength="16.0" lengthAdjust="spacingAndGlyphs">2</text>
<line x1="556.5" x2="556.5" y1="1296" y2="1303.9" stroke="#000" stroke-width="1.67"/>
<text x="555.7" y="1330.5" font-size="25.64" text-anchor="middle" textLength="16.0" lengthAdjust="spacingAndGlyphs">4</text>
<line x1="739.0" x2="739.0" y1="1296" y2="1303.9" stroke="#000" stroke-width="1.67"/>
<text x="738.2" y="1330.5" font-size="25.64" text-anchor="middle" textLength="16.0" lengthAdjust="spacingAndGlyphs">6</text>
<line x1="921.5" x2="921.5" y1="1296" y2="1303.9" stroke="#000" stroke-width="1.67"/>
<text x="920.7" y="1330.5" font-size="25.64" text-anchor="middle" textLength="16.0" lengthAdjust="spacingAndGlyphs">8</text>
<line x1="1104.0" x2="1104.0" y1="1296" y2="1303.9" stroke="#000" stroke-width="1.67"/>
<text x="1103.2" y="1330.5" font-size="25.64" text-anchor="middle" textLength="32.0" lengthAdjust="spacingAndGlyphs">10</text>
<line x1="1286.5" x2="1286.5" y1="1296" y2="1303.9" stroke="#000" stroke-width="1.67"/>
<text x="1285.7" y="1330.5" font-size="25.64" text-anchor="middle" textLength="32.0" lengthAdjust="spacingAndGlyphs">12</text>
<text x="738.5" y="1362.6" font-size="25.64" text-anchor="middle" textLength="693.0" lengthAdjust="spacingAndGlyphs">Maximum anomaly of the mean daily temperature (°C)</text>
</svg></body></html>
